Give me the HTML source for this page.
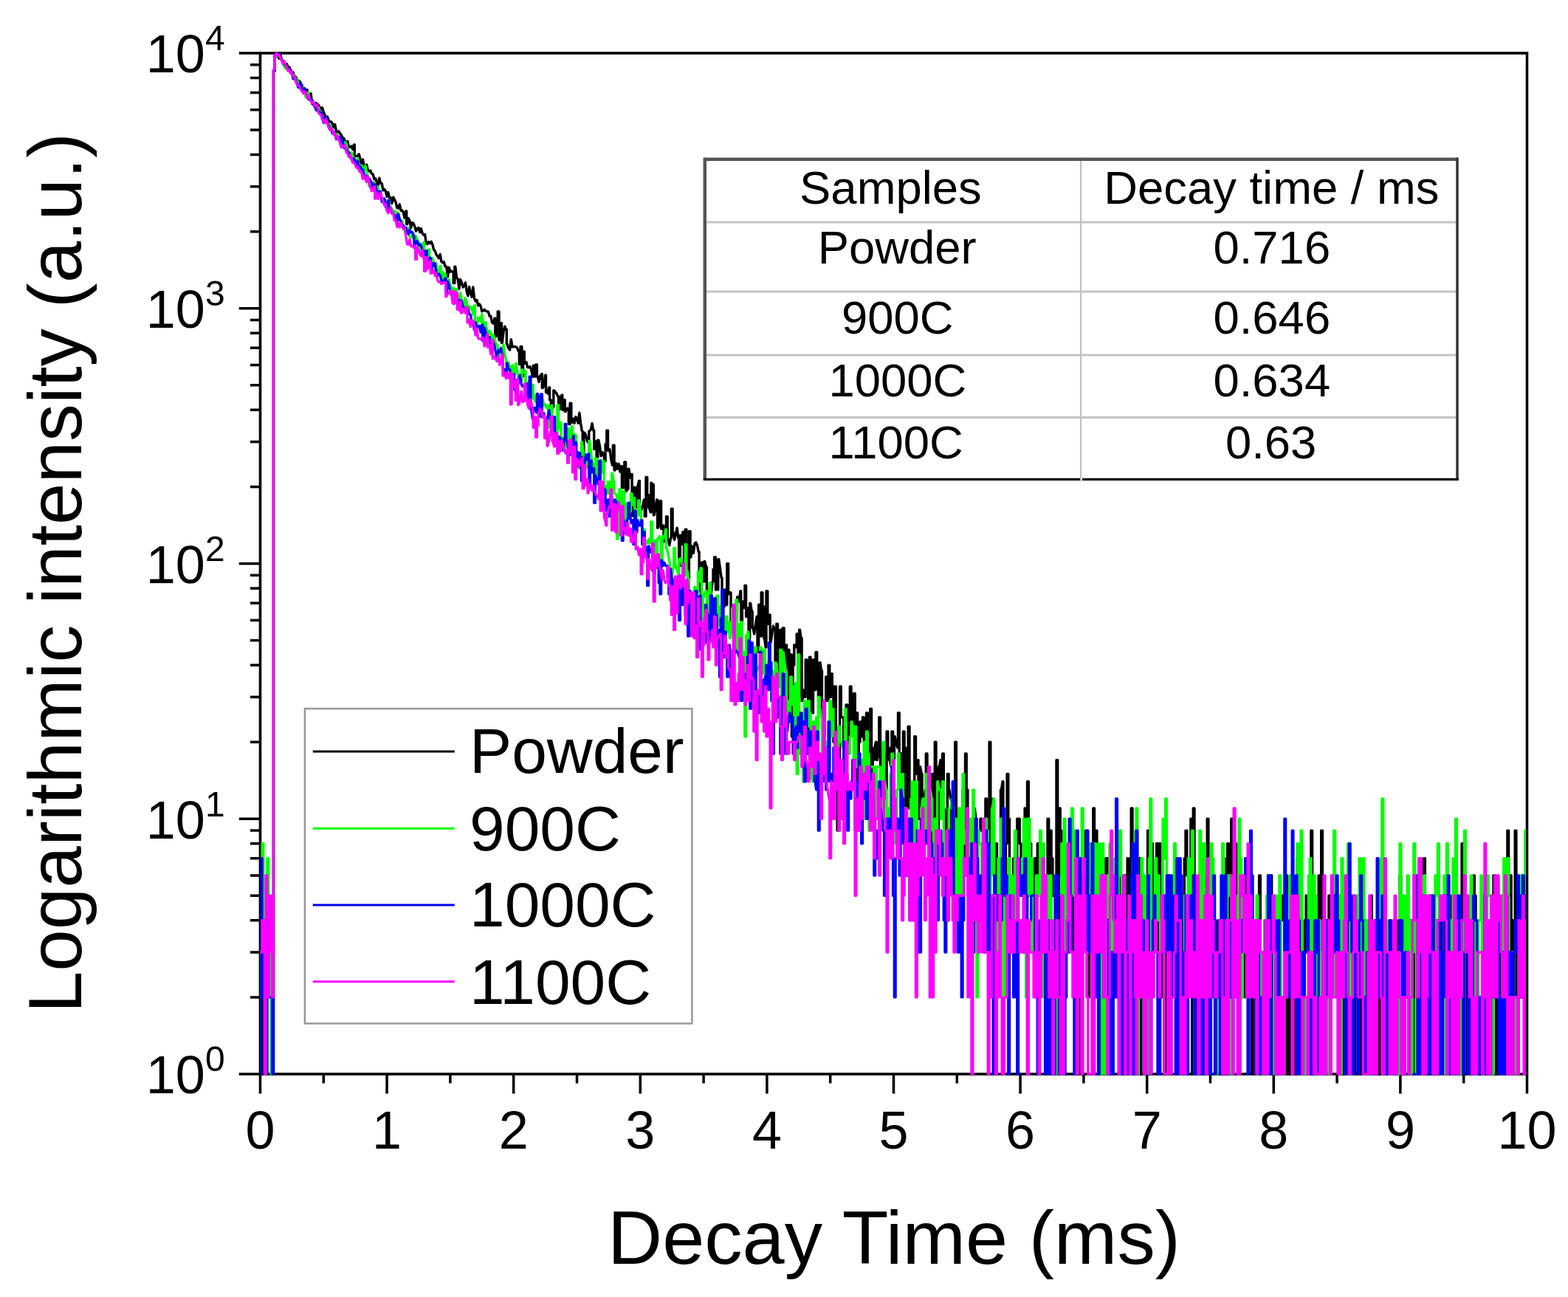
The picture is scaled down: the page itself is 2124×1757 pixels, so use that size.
<!DOCTYPE html>
<html><head><meta charset="utf-8"><title>Decay</title><style>
html,body{margin:0;padding:0;background:#fff;overflow:hidden;width:2124px;height:1757px;}
svg{display:block;}
text{font-family:"Liberation Sans", Arial, Helvetica, sans-serif;fill:#000;}
</style></head><body>
<svg width="2124" height="1757" viewBox="0 0 2124 1757">
<rect x="0" y="0" width="2124" height="1757" fill="#fff"/>
<defs><clipPath id="pa"><rect x="352.5" y="70.5" width="1714.5" height="1386.0"/></clipPath></defs>
<rect x="352.5" y="72.0" width="1716.0" height="1383.0" fill="none" stroke="#000" stroke-width="3.6"/>
<path d="M352.5,1455.0V1481.5M524.1,1455.0V1481.5M695.7,1455.0V1481.5M867.3,1455.0V1481.5M1038.9,1455.0V1481.5M1210.5,1455.0V1481.5M1382.1,1455.0V1481.5M1553.7,1455.0V1481.5M1725.3,1455.0V1481.5M1896.9,1455.0V1481.5M2068.5,1455.0V1481.5M438.3,1455.0V1467.5M609.9,1455.0V1467.5M781.5,1455.0V1467.5M953.1,1455.0V1467.5M1124.7,1455.0V1467.5M1296.3,1455.0V1467.5M1467.9,1455.0V1467.5M1639.5,1455.0V1467.5M1811.1,1455.0V1467.5M1982.7,1455.0V1467.5M352.5,1455.0H323.8M352.5,1350.9H339.0M352.5,1290.0H339.0M352.5,1246.8H339.0M352.5,1213.3H339.0M352.5,1186.0H339.0M352.5,1162.8H339.0M352.5,1142.8H339.0M352.5,1125.1H339.0M352.5,1109.2H323.8M352.5,1005.2H339.0M352.5,944.3H339.0M352.5,901.1H339.0M352.5,867.6H339.0M352.5,840.2H339.0M352.5,817.1H339.0M352.5,797.0H339.0M352.5,779.3H339.0M352.5,763.5H323.8M352.5,659.4H339.0M352.5,598.5H339.0M352.5,555.3H339.0M352.5,521.8H339.0M352.5,494.5H339.0M352.5,471.3H339.0M352.5,451.3H339.0M352.5,433.6H339.0M352.5,417.8H323.8M352.5,313.7H339.0M352.5,252.8H339.0M352.5,209.6H339.0M352.5,176.1H339.0M352.5,148.7H339.0M352.5,125.6H339.0M352.5,105.5H339.0M352.5,87.8H339.0M352.5,72.0H323.8" stroke="#000" stroke-width="3.5" fill="none"/>
<g clip-path="url(#pa)" fill="none" stroke-width="3.4" stroke-linejoin="round">
<path stroke="#000000" d="M352.5,1350.9H353.4V1246.8H354.2H355.1V1455.0H355.9H356.8V1290.0H357.6H358.5V1350.9H359.4H360.2V1186.0H361.1H361.9V1350.9H362.8H363.7V1290.0H364.5L366.2,1290.0H367.1V1246.8H367.9H368.8V1455.0H369.7H370.5V95.9H371.4H372.2V75.2H373.1L374.8,72.0L376.5,76.4L378.2,79.3L380.0,74.8L381.7,81.6L383.4,86.3L385.1,87.7L386.8,87.1L388.5,86.7L390.3,91.5L392.0,91.0L393.7,95.3L395.4,97.0L397.1,97.9L398.8,103.3L400.5,104.0L402.3,107.8L404.0,110.6L405.7,109.6L407.4,115.4L409.1,115.4L410.8,119.7L412.6,120.2L414.3,123.6L416.0,121.6L417.7,126.4L419.4,128.5L421.1,126.7L422.9,140.8L424.6,138.3L426.3,144.9L428.0,139.7L429.7,140.6L431.4,142.3L433.2,145.5L434.9,150.8L436.6,145.8L438.3,151.9L440.0,155.6L441.7,160.4L443.4,158.1L445.2,162.9L446.9,164.9L448.6,165.0L450.3,167.4L452.0,172.5L453.7,168.6L455.5,177.5L457.2,180.0L458.9,177.8L460.6,180.6L462.3,182.9L464.0,186.6L465.8,187.3L467.5,191.3L469.2,197.1L470.9,191.5L472.6,199.5L474.3,199.1L476.1,198.0L477.8,202.5L479.5,196.0H480.3V211.5H481.2L482.9,211.6L484.6,210.9L486.3,208.8L488.1,216.0L489.8,222.8L491.5,215.9L493.2,225.3L494.9,224.8L496.6,223.0L498.4,230.9L500.1,232.1L501.8,231.0L503.5,235.5L505.2,235.9L506.9,242.7L508.7,241.8L510.4,247.6L512.1,251.5L513.8,241.2L515.5,248.2L517.2,248.4L519.0,257.9L520.7,256.3L522.4,259.0L524.1,266.3L525.8,260.5L527.5,267.8L529.2,267.8L531.0,275.4L532.7,267.1L534.4,270.2L536.1,273.9L537.8,281.5L539.5,282.0L541.3,276.8L543.0,285.2L544.7,285.0L546.4,287.6L548.1,295.4L549.8,286.0H550.7V303.7H551.6L553.3,295.7L555.0,299.3L556.7,308.6L558.4,301.7L560.1,302.7L561.9,307.1L563.6,313.1L565.3,309.5L567.0,308.5L568.7,314.4L570.4,309.6L572.1,316.0L573.9,318.3L575.6,317.6L577.3,329.5L579.0,330.7L580.7,327.7L582.4,329.7L584.2,327.3L585.9,331.3L587.6,338.2L589.3,340.0L591.0,344.7L592.7,347.3L594.5,349.8L596.2,344.4L597.9,354.2L599.6,355.8L601.3,354.9L603.0,360.9L604.8,361.2L606.5,374.9L608.2,362.3L609.9,368.0L611.6,367.1L613.3,368.3H614.2V383.5H615.0H615.9V361.2H616.8L618.5,375.7L620.2,377.9L621.9,391.3L623.6,378.8L625.3,382.6L627.1,389.1L628.8,387.2L630.5,382.9L632.2,394.9L633.9,400.7L635.6,388.5L637.4,397.3L639.1,402.2L640.8,389.0L642.5,404.0L644.2,408.2L645.9,406.5L647.7,414.0L649.4,412.0L651.1,414.6L652.8,421.6L654.5,420.9L656.2,419.3L657.9,421.4L659.7,421.9L661.4,422.2L663.1,428.3L664.8,428.3L666.5,436.9L668.2,438.3L670.0,431.1H670.8V455.8H671.7H672.5V439.9H673.4H674.2V422.0H675.1H676.0V460.7H676.8H677.7V437.6H678.5H679.4V464.4H680.3L682.0,449.8L683.7,442.2L685.4,446.1H686.3V466.0H687.1L688.8,471.7L690.6,474.1L692.3,459.6L694.0,470.0L695.7,469.6L697.4,469.4L699.1,470.0L700.8,471.7L702.6,476.5H703.4V493.5H704.3H705.1V469.4H706.0H706.9V509.4H707.7H708.6V476.3H709.4H710.3V492.2H711.1L712.9,490.5L714.6,497.5L716.3,497.7L718.0,496.7L719.7,500.8L721.4,510.3H722.3V495.2H723.2L724.9,510.0H725.7V494.0H726.6H727.4V510.0H728.3L730.0,517.4L731.7,509.2L733.5,506.7H734.3V525.5H735.2L736.9,521.2L738.6,508.3H739.5V531.4H740.3L742.0,533.1L743.7,524.9H744.6V541.7H745.5H746.3V558.0H747.2L748.9,550.9H749.8V528.9H750.6L752.3,531.1L754.0,533.1L755.8,537.0H756.6V554.6H757.5H758.3V538.7H759.2L760.9,535.3H761.8V555.3H762.6L764.3,541.7H765.2V557.6H766.1L767.8,553.1L769.5,553.1H770.3V574.5H771.2H772.1V546.2H772.9H773.8V572.4H774.6L776.4,567.0L778.1,573.3L779.8,564.6L781.5,566.6L783.2,573.3L784.9,559.1L786.6,573.7L788.4,584.2H789.2V618.9H790.1H790.9V586.1H791.8L793.5,588.8L795.2,597.0L796.9,600.0H797.8V584.2H798.7L800.4,581.5L802.1,573.7L803.8,583.3H804.7V608.4H805.5L807.2,598.0H808.1V619.4H809.0H809.8V596.1H810.7L812.4,603.6L814.1,617.7L815.8,612.7L817.5,614.9L819.3,624.7H820.1V601.6H821.0H821.8V583.3H822.7H823.5V610.5H824.4L826.1,608.9L827.8,622.9L829.5,630.2H830.4V603.1H831.3H832.1V637.1H833.0L834.7,627.7L836.4,635.2L838.1,628.3L839.8,639.1L841.6,631.4H842.4V660.9H843.3H844.1V644.4H845.0H845.8V625.9H846.7H847.6V665.5H848.4L850.1,662.5H851.0V635.2H851.9L853.6,647.2L855.3,642.4H856.1V698.7H857.0H857.9V660.2H858.7H859.6V683.8H860.4L862.2,687.4H863.0V659.4H863.9L865.6,651.4H866.4V695.8H867.3L869.0,690.1L870.7,684.7L872.4,676.9H873.3V699.6H874.2H875.0V646.5H875.9H876.7V670.3H877.6H878.5V687.4H879.3L881.0,693.9H881.9V654.3H882.7L884.5,656.4H885.3V697.7H886.2L887.9,687.4L889.6,676.9H890.5V715.1H891.3L893.0,710.8H893.9V678.6H894.8H895.6V716.2H896.5L898.2,711.9H899.0V733.6H899.9L901.6,721.8H902.5V699.6H903.3H904.2V731.2H905.1L906.8,738.6L908.5,728.8H909.3V689.2H910.2H911.1V720.7H911.9L913.6,731.2L915.3,724.1L917.1,715.1L918.8,728.8H919.6V766.5H920.5H921.4V725.3H922.2L923.9,737.4H924.8V720.7H925.6H926.5V771.2H927.4H928.2V717.3H929.1H929.9V750.6H930.8H931.7V786.1H932.5H933.4V719.6H934.2H935.1V754.8H935.9L937.7,739.9L939.4,749.2L941.1,736.1L942.8,734.9L944.5,738.6L946.2,747.8H947.1V795.1H948.0L949.7,804.7H950.5V762.0H951.4H952.2V787.9H953.1H954.0V760.5H954.8L956.5,768.1H957.4V800.8H958.2L960.0,802.7L961.7,808.7L963.4,802.7L965.1,787.9H966.0V771.2H966.8H967.7V754.8H968.5H969.4V798.9H970.3L972.0,798.9H972.8V757.6H973.7L975.4,769.6L977.1,782.7H978.0V864.6H978.8H979.7V821.4H980.6H981.4V798.9H982.3H983.1V819.2H984.0H984.8V763.5H985.7H986.6V804.7H987.4L989.1,802.7H990.0V845.3H990.9L992.6,842.7L994.3,832.9L996.0,835.3L997.7,828.2H998.6V808.7H999.4L1001.1,814.9L1002.9,800.8H1003.7V861.7H1004.6H1005.4V814.9H1006.3L1008.0,823.6H1008.9V793.3H1009.7H1010.6V835.3H1011.4L1013.2,823.6H1014.0V864.6H1014.9H1015.7V817.1H1016.6L1018.3,828.2H1019.2V850.6H1020.0L1021.7,858.8L1023.5,845.3L1025.2,835.3H1026.0V883.4H1026.9H1027.7V819.2H1028.6H1029.5V861.7H1030.3H1031.2V802.7H1032.0H1032.9V821.4H1033.8H1034.6V864.6H1035.5L1037.2,876.9H1038.0V800.8H1038.9H1039.8V845.3H1040.6L1042.3,832.9H1043.2V870.6H1044.0L1045.8,858.8L1047.5,847.9L1049.2,853.3H1050.1V897.4H1050.9H1051.8V845.3H1052.6H1053.5V867.6H1054.3H1055.2V912.8H1056.1H1056.9V853.3H1057.8H1058.6V883.4H1059.5H1060.3V850.6H1061.2H1062.1V901.1H1062.9H1063.8V873.7H1064.6H1065.5V954.6H1066.4H1067.2V880.1H1068.1H1068.9V960.1H1069.8H1070.6V886.8H1071.5H1072.4V997.8H1073.2H1074.1V901.1H1074.9H1075.8V873.7H1076.7L1078.4,876.9H1079.2V858.8H1080.1H1080.9V944.3H1081.8H1082.7V853.3H1083.5L1085.2,864.6H1086.1V949.4H1086.9L1088.7,934.6L1090.4,944.3H1091.2V893.8H1092.1H1093.0V912.8H1093.8H1094.7V1021.0H1095.5H1096.4V890.2H1097.2H1098.1V939.4H1099.0H1099.8V965.8H1100.7H1101.5V893.8H1102.4H1103.2V934.6H1104.1H1105.0V883.4H1105.8H1106.7V912.8H1107.5H1108.4V944.3H1109.3H1110.1V897.4H1111.0L1112.7,908.8H1113.5V971.7H1114.4H1115.3V1021.0H1116.1H1117.0V949.4H1117.8H1118.7V916.9H1119.6H1120.4V949.4H1121.3H1122.1V901.1H1123.0H1123.8V944.3H1124.7H1125.6V912.8H1126.4H1127.3V930.0H1128.1H1129.0V1005.2H1129.8H1130.7V930.0H1131.6H1132.4V990.9H1133.3H1134.1V1125.1H1135.0H1135.9V1048.4H1136.7H1137.6V930.0H1138.4H1139.3V971.7H1140.1L1141.9,971.7H1142.7V1048.4H1143.6H1144.4V977.8H1145.3H1146.1V954.6H1147.0H1147.9V977.8H1148.7H1149.6V1012.9H1150.4H1151.3V930.0H1152.2H1153.0V990.9H1153.9L1155.6,977.8H1156.4V939.4H1157.3H1158.2V1125.1H1159.0H1159.9V965.8H1160.7H1161.6V1058.7H1162.5H1163.3V1005.2H1164.2H1165.0V977.8H1165.9H1166.7V997.8H1167.6H1168.5V971.7H1169.3H1170.2V1005.2H1171.0L1172.7,1012.9H1173.6V965.8H1174.5H1175.3V1029.6H1176.2L1177.9,1021.0H1178.8V960.1H1179.6H1180.5V1048.4H1181.3H1182.2V1029.6H1183.0H1183.9V1012.9H1184.8L1186.5,1005.2H1187.3V1029.6H1188.2L1189.9,1021.0H1190.8V971.7H1191.6H1192.5V1038.7H1193.3H1194.2V1012.9H1195.1L1196.8,1021.0H1197.6V1081.9H1198.5L1200.2,1069.9H1201.1V990.9H1201.9H1202.8V1012.9H1203.6H1204.5V1029.6H1205.4L1207.1,1038.7H1207.9V990.9H1208.8H1209.6V1029.6H1210.5H1211.4V997.8H1212.2L1213.9,1005.2L1215.6,1012.9H1216.5V965.8H1217.4H1218.2V1029.6H1219.1L1220.8,1021.0H1221.7V1058.7H1222.5H1223.4V990.9H1224.2H1225.1V1012.9H1225.9H1226.8V1125.1H1227.7H1228.5V1058.7H1229.4H1230.2V984.2H1231.1H1232.0V1094.9H1232.8L1234.5,1081.9H1235.4V1142.8H1236.2H1237.1V1109.2H1238.0H1238.8V997.8H1239.7H1240.5V1048.4H1241.4H1242.2V1029.6H1243.1H1244.0V1109.2H1244.8H1245.7V1038.7H1246.5L1248.3,1048.4H1249.1V1094.9H1250.0L1251.7,1081.9L1253.4,1069.9H1254.3V1021.0H1255.1H1256.0V1069.9H1256.8H1257.7V1186.0H1258.5H1259.4V1162.8H1260.3H1261.1V1109.2H1262.0H1262.8V1048.4H1263.7H1264.6V1142.8H1265.4H1266.3V1005.2H1267.1H1268.0V1094.9H1268.8H1269.7V1125.1H1270.6H1271.4V1038.7H1272.3L1274.0,1029.6H1274.8V1109.2H1275.7H1276.6V1021.0H1277.4H1278.3V1094.9H1279.1L1280.9,1109.2H1281.7V1125.1H1282.6H1283.4V1048.4H1284.3H1285.1V1069.9H1286.0L1287.7,1081.9H1288.6V1186.0H1289.4H1290.3V1094.9H1291.2L1292.9,1081.9H1293.7V1005.2H1294.6H1295.4V1142.8H1296.3L1298.0,1142.8H1298.9V1213.3H1299.7H1300.6V1125.1H1301.4H1302.3V1162.8H1303.2H1304.0V1069.9H1304.9H1305.7V1162.8H1306.6H1307.5V1021.0H1308.3H1309.2V1069.9H1310.0H1310.9V1142.8H1311.7H1312.6V1162.8H1313.5H1314.3V1142.8H1315.2H1316.0V1213.3H1316.9H1317.8V1109.2H1318.6L1320.3,1094.9L1322.0,1109.2H1322.9V1213.3H1323.8H1324.6V1142.8H1325.5H1326.3V1125.1H1327.2H1328.0V1109.2H1328.9H1329.8V1125.1H1330.6L1332.3,1125.1L1334.1,1125.1H1334.9V1081.9H1335.8H1336.6V1246.8H1337.5H1338.3V1142.8H1339.2H1340.1V1005.2H1340.9H1341.8V1081.9H1342.6H1343.5V1142.8H1344.3L1346.1,1142.8H1346.9V1186.0H1347.8H1348.6V1142.8H1349.5H1350.4V1213.3H1351.2L1352.9,1213.3H1353.8V1162.8H1354.6H1355.5V1069.9H1356.4L1358.1,1058.7H1358.9V1162.8H1359.8H1360.6V1213.3H1361.5H1362.4V1142.8H1363.2H1364.1V1048.4H1364.9H1365.8V1109.2H1366.7H1367.5V1290.0H1368.4H1369.2V1246.8H1370.1H1370.9V1186.0H1371.8H1372.7V1162.8H1373.5H1374.4V1186.0H1375.2L1377.0,1186.0H1377.8V1109.2H1378.7L1380.4,1109.2H1381.2V1142.8H1382.1H1383.0V1213.3H1383.8H1384.7V1162.8H1385.5H1386.4V1186.0H1387.2H1388.1V1094.9H1389.0H1389.8V1290.0H1390.7H1391.5V1058.7H1392.4H1393.3V1213.3H1394.1H1395.0V1142.8H1395.8H1396.7V1246.8H1397.5H1398.4V1213.3H1399.3L1401.0,1213.3H1401.8V1162.8H1402.7H1403.5V1213.3H1404.4H1405.3V1142.8H1406.1H1407.0V1213.3H1407.8H1408.7V1186.0H1409.6H1410.4V1142.8H1411.3L1413.0,1142.8H1413.8V1213.3H1414.7L1416.4,1213.3H1417.3V1186.0H1418.1H1419.0V1109.2H1419.9H1420.7V1246.8H1421.6H1422.4V1125.1H1423.3H1424.1V1162.8H1425.0H1425.9V1213.3H1426.7L1428.4,1213.3H1429.3V1290.0H1430.1H1431.0V1029.6H1431.9H1432.7V1290.0H1433.6H1434.4V1094.9H1435.3H1436.2V1125.1H1437.0H1437.9V1186.0H1438.7L1440.4,1186.0H1441.3V1290.0H1442.2H1443.0V1246.8H1443.9L1445.6,1246.8H1446.5V1213.3H1447.3H1448.2V1186.0H1449.0H1449.9V1162.8H1450.7H1451.6V1246.8H1452.5H1453.3V1186.0H1454.2H1455.0V1350.9H1455.9H1456.7V1213.3H1457.6H1458.5V1350.9H1459.3H1460.2V1455.0H1461.0H1461.9V1290.0H1462.8H1463.6V1186.0H1464.5H1465.3V1213.3H1466.2H1467.0V1246.8H1467.9H1468.8V1186.0H1469.6H1470.5V1125.1H1471.3H1472.2V1350.9H1473.0L1474.8,1350.9H1475.6V1290.0H1476.5H1477.3V1186.0H1478.2H1479.1V1162.8H1479.9H1480.8V1094.9H1481.6H1482.5V1186.0H1483.3H1484.2V1125.1H1485.1H1485.9V1213.3H1486.8L1488.5,1213.3H1489.3V1162.8H1490.2L1491.9,1162.8H1492.8V1213.3H1493.6H1494.5V1455.0H1495.4H1496.2V1246.8H1497.1H1497.9V1162.8H1498.8H1499.6V1290.0H1500.5H1501.4V1162.8H1502.2H1503.1V1186.0H1503.9H1504.8V1246.8H1505.7H1506.5V1350.9H1507.4H1508.2V1186.0H1509.1L1510.8,1186.0H1511.7V1109.2H1512.5H1513.4V1350.9H1514.2H1515.1V1186.0H1515.9H1516.8V1246.8H1517.7H1518.5V1350.9H1519.4L1521.1,1350.9H1522.0V1290.0H1522.8H1523.7V1186.0H1524.5H1525.4V1246.8H1526.2H1527.1V1162.8H1528.0H1528.8V1186.0H1529.7H1530.5V1213.3H1531.4H1532.2V1094.9H1533.1H1534.0V1290.0H1534.8H1535.7V1213.3H1536.5H1537.4V1186.0H1538.3H1539.1V1350.9H1540.0H1540.8V1162.8H1541.7L1543.4,1162.8H1544.3V1455.0H1545.1H1546.0V1290.0H1546.8L1548.6,1290.0H1549.4V1350.9H1550.3H1551.1V1213.3H1552.0H1552.8V1350.9H1553.7H1554.6V1125.1H1555.4H1556.3V1290.0H1557.1H1558.0V1213.3H1558.8H1559.7V1142.8H1560.6H1561.4V1246.8H1562.3H1563.1V1290.0H1564.0L1565.7,1290.0H1566.6V1142.8H1567.4H1568.3V1455.0H1569.1H1570.0V1142.8H1570.9H1571.7V1350.9H1572.6H1573.4V1246.8H1574.3H1575.1V1290.0H1576.0H1576.9V1455.0H1577.7L1579.4,1455.0H1580.3V1290.0H1581.2H1582.0V1186.0H1582.9H1583.7V1485.0H1584.6H1585.4V1213.3H1586.3H1587.2V1350.9H1588.0H1588.9V1213.3H1589.7H1590.6V1290.0H1591.5H1592.3V1186.0H1593.2H1594.0V1350.9H1594.9H1595.7V1290.0H1596.6H1597.5V1213.3H1598.3H1599.2V1350.9H1600.0H1600.9V1213.3H1601.7H1602.6V1350.9H1603.5H1604.3V1162.8H1605.2H1606.0V1125.1H1606.9H1607.8V1186.0H1608.6H1609.5V1246.8H1610.3H1611.2V1213.3H1612.0H1612.9V1109.2H1613.8H1614.6V1455.0H1615.5H1616.3V1094.9H1617.2H1618.0V1246.8H1618.9L1620.6,1246.8H1621.5V1350.9H1622.3H1623.2V1246.8H1624.1H1624.9V1290.0H1625.8H1626.6V1213.3H1627.5H1628.3V1162.8H1629.2H1630.1V1186.0H1630.9H1631.8V1246.8H1632.6H1633.5V1213.3H1634.4H1635.2V1109.2H1636.1H1636.9V1290.0H1637.8H1638.6V1246.8H1639.5H1640.4V1290.0H1641.2H1642.1V1213.3H1642.9H1643.8V1246.8H1644.6L1646.4,1246.8H1647.2V1290.0H1648.1H1648.9V1350.9H1649.8H1650.7V1290.0H1651.5H1652.4V1246.8H1653.2H1654.1V1290.0H1654.9H1655.8V1485.0H1656.7H1657.5V1455.0H1658.4H1659.2V1213.3H1660.1H1661.0V1162.8H1661.8H1662.7V1142.8H1663.5H1664.4V1350.9H1665.2H1666.1V1290.0H1667.0H1667.8V1109.2H1668.7H1669.5V1290.0H1670.4L1672.1,1290.0H1673.0V1142.8H1673.8H1674.7V1350.9H1675.5L1677.3,1350.9H1678.1V1455.0H1679.0H1679.8V1290.0H1680.7H1681.5V1350.9H1682.4H1683.3V1213.3H1684.1H1685.0V1186.0H1685.8H1686.7V1350.9H1687.5H1688.4V1290.0H1689.3H1690.1V1246.8H1691.0H1691.8V1213.3H1692.7H1693.6V1290.0H1694.4H1695.3V1455.0H1696.1L1697.8,1455.0H1698.7V1246.8H1699.6H1700.4V1350.9H1701.3H1702.1V1290.0H1703.0H1703.8V1455.0H1704.7H1705.6V1186.0H1706.4H1707.3V1290.0H1708.1H1709.0V1350.9H1709.9H1710.7V1455.0H1711.6H1712.4V1290.0H1713.3L1715.0,1290.0H1715.9V1246.8H1716.7H1717.6V1186.0H1718.4H1719.3V1213.3H1720.2H1721.0V1186.0H1721.9H1722.7V1246.8H1723.6H1724.4V1350.9H1725.3H1726.2V1246.8H1727.0H1727.9V1290.0H1728.7H1729.6V1350.9H1730.4H1731.3V1290.0H1732.2H1733.0V1455.0H1733.9H1734.7V1246.8H1735.6H1736.5V1213.3H1737.3L1739.0,1213.3H1739.9V1455.0H1740.7H1741.6V1186.0H1742.5H1743.3V1350.9H1744.2H1745.0V1485.0H1745.9H1746.8V1455.0H1747.6H1748.5V1186.0H1749.3H1750.2V1455.0H1751.0H1751.9V1290.0H1752.8H1753.6V1455.0H1754.5H1755.3V1290.0H1756.2H1757.0V1162.8H1757.9H1758.8V1290.0H1759.6L1761.3,1290.0H1762.2V1455.0H1763.1H1763.9V1350.9H1764.8H1765.6V1455.0H1766.5H1767.3V1246.8H1768.2H1769.1V1213.3H1769.9H1770.8V1246.8H1771.6H1772.5V1290.0H1773.3H1774.2V1350.9H1775.1H1775.9V1125.1H1776.8H1777.6V1290.0H1778.5H1779.4V1246.8H1780.2H1781.1V1485.0H1781.9H1782.8V1455.0H1783.6H1784.5V1350.9H1785.4H1786.2V1186.0H1787.1H1787.9V1455.0H1788.8H1789.7V1125.1H1790.5H1791.4V1350.9H1792.2H1793.1V1290.0H1793.9L1795.7,1290.0H1796.5V1350.9H1797.4L1799.1,1350.9H1799.9V1213.3H1800.8H1801.7V1290.0H1802.5L1804.2,1290.0H1805.1V1213.3H1806.0H1806.8V1246.8H1807.7L1809.4,1246.8H1810.2V1350.9H1811.1H1812.0V1246.8H1812.8H1813.7V1290.0H1814.5H1815.4V1455.0H1816.2H1817.1V1213.3H1818.0H1818.8V1455.0H1819.7H1820.5V1290.0H1821.4L1823.1,1290.0H1824.0V1455.0H1824.8H1825.7V1350.9H1826.5H1827.4V1290.0H1828.3H1829.1V1350.9H1830.0L1831.7,1350.9H1832.6V1455.0H1833.4H1834.3V1350.9H1835.1H1836.0V1455.0H1836.8L1838.6,1455.0L1840.3,1455.0H1841.1V1290.0H1842.0H1842.8V1455.0H1843.7H1844.6V1186.0H1845.4H1846.3V1290.0H1847.1L1848.9,1290.0L1850.6,1290.0H1851.4V1246.8H1852.3H1853.1V1290.0H1854.0H1854.9V1455.0H1855.7H1856.6V1213.3H1857.4H1858.3V1485.0H1859.1H1860.0V1350.9H1860.9L1862.6,1350.9H1863.4V1455.0H1864.3H1865.2V1290.0H1866.0H1866.9V1246.8H1867.7H1868.6V1455.0H1869.4H1870.3V1246.8H1871.2H1872.0V1290.0H1872.9L1874.6,1290.0L1876.3,1290.0H1877.2V1455.0H1878.0H1878.9V1350.9H1879.7H1880.6V1290.0H1881.5H1882.3V1246.8H1883.2H1884.0V1290.0H1884.9H1885.7V1350.9H1886.6H1887.5V1290.0H1888.3H1889.2V1246.8H1890.0H1890.9V1485.0H1891.8H1892.6V1350.9H1893.5H1894.3V1246.8H1895.2H1896.0V1186.0H1896.9H1897.8V1213.3H1898.6H1899.5V1246.8H1900.3H1901.2V1485.0H1902.0H1902.9V1246.8H1903.8L1905.5,1246.8H1906.3V1350.9H1907.2H1908.1V1455.0H1908.9H1909.8V1485.0H1910.6H1911.5V1246.8H1912.3H1913.2V1455.0H1914.1H1914.9V1350.9H1915.8H1916.6V1186.0H1917.5H1918.4V1290.0H1919.2H1920.1V1186.0H1920.9H1921.8V1246.8H1922.6L1924.4,1246.8H1925.2V1455.0H1926.1H1926.9V1290.0H1927.8H1928.6V1162.8H1929.5H1930.4V1485.0H1931.2H1932.1V1350.9H1932.9H1933.8V1485.0H1934.7H1935.5V1213.3H1936.4H1937.2V1485.0H1938.1H1938.9V1213.3H1939.8H1940.7V1455.0H1941.5H1942.4V1485.0H1943.2H1944.1V1246.8H1944.9L1946.7,1246.8H1947.5V1455.0H1948.4H1949.2V1485.0H1950.1H1951.0V1246.8H1951.8H1952.7V1350.9H1953.5H1954.4V1290.0H1955.2L1957.0,1290.0L1958.7,1290.0L1960.4,1290.0H1961.3V1350.9H1962.1H1963.0V1246.8H1963.8H1964.7V1290.0H1965.5H1966.4V1213.3H1967.3L1969.0,1213.3H1969.8V1186.0H1970.7L1972.4,1186.0H1973.3V1246.8H1974.1L1975.8,1246.8L1977.6,1246.8H1978.4V1350.9H1979.3H1980.1V1142.8H1981.0H1981.8V1485.0H1982.7H1983.6V1455.0H1984.4H1985.3V1485.0H1986.1H1987.0V1246.8H1987.8H1988.7V1455.0H1989.6H1990.4V1350.9H1991.3L1993.0,1350.9H1993.9V1485.0H1994.7H1995.6V1186.0H1996.4H1997.3V1213.3H1998.1H1999.0V1350.9H1999.9H2000.7V1290.0H2001.6H2002.4V1350.9H2003.3L2005.0,1350.9H2005.9V1485.0H2006.7H2007.6V1213.3H2008.4H2009.3V1455.0H2010.2H2011.0V1350.9H2011.9H2012.7V1213.3H2013.6H2014.4V1485.0H2015.3H2016.2V1290.0H2017.0H2017.9V1350.9H2018.7L2020.5,1350.9H2021.3V1290.0H2022.2H2023.0V1186.0H2023.9H2024.7V1246.8H2025.6H2026.5V1455.0H2027.3H2028.2V1290.0H2029.0L2030.7,1290.0H2031.6V1350.9H2032.5H2033.3V1455.0H2034.2H2035.0V1213.3H2035.9H2036.8V1246.8H2037.6H2038.5V1455.0H2039.3H2040.2V1350.9H2041.0H2041.9V1125.1H2042.8H2043.6V1213.3H2044.5H2045.3V1186.0H2046.2H2047.1V1290.0H2047.9H2048.8V1246.8H2049.6H2050.5V1290.0H2051.3H2052.2V1125.1H2053.1H2053.9V1350.9H2054.8H2055.6V1455.0H2056.5H2057.3V1246.8H2058.2H2059.1V1350.9H2059.9H2060.8V1246.8H2061.6H2062.5V1350.9H2063.4H2064.2V1246.8H2065.1H2065.9V1290.0H2066.8H2067.6V1455.0H2068.5"/>
<path stroke="#00ff00" d="M352.5,1350.9H353.4V1290.0H354.2H355.1V1142.8H355.9H356.8V1213.3H357.6H358.5V1455.0H359.4L361.1,1455.0H361.9V1162.8H362.8H363.7V1213.3H364.5H365.4V1246.8H366.2H367.1V1455.0H367.9H368.8V1290.0H369.7H370.5V96.3H371.4H372.2V78.8H373.1L374.8,72.0L376.5,74.8L378.2,75.5L380.0,78.7L381.7,81.9L383.4,85.0L385.1,89.2L386.8,93.0L388.5,90.3L390.3,95.8L392.0,96.6L393.7,96.4L395.4,98.3L397.1,100.6L398.8,104.5L400.5,106.2L402.3,108.7L404.0,111.3L405.7,117.1L407.4,116.0L409.1,116.8L410.8,121.4L412.6,123.4L414.3,132.0L416.0,130.8L417.7,124.9L419.4,135.6L421.1,134.0L422.9,134.6L424.6,137.5L426.3,141.8L428.0,144.9L429.7,150.4L431.4,145.0L433.2,151.5L434.9,150.9L436.6,160.7L438.3,164.1L440.0,166.6L441.7,161.3L443.4,166.6L445.2,168.9L446.9,169.6L448.6,172.4L450.3,174.7L452.0,179.5L453.7,182.7L455.5,181.7L457.2,181.5L458.9,188.4L460.6,188.6L462.3,192.4L464.0,192.3L465.8,199.6L467.5,192.4L469.2,195.2L470.9,202.3L472.6,205.6L474.3,213.0L476.1,206.7L477.8,211.6L479.5,213.7L481.2,221.9L482.9,216.6L484.6,215.3L486.3,227.3L488.1,226.7L489.8,224.1L491.5,228.2L493.2,230.3L494.9,224.6L496.6,232.1L498.4,238.8L500.1,252.3L501.8,244.9L503.5,251.5L505.2,253.6L506.9,246.7L508.7,257.5L510.4,256.5L512.1,252.9L513.8,262.9L515.5,264.7L517.2,269.6L519.0,269.2L520.7,276.1L522.4,271.1L524.1,277.1L525.8,274.7L527.5,276.3L529.2,281.4L531.0,282.8L532.7,287.1L534.4,285.9L536.1,286.4L537.8,290.6L539.5,288.9L541.3,296.0L543.0,298.8L544.7,299.2L546.4,310.8L548.1,307.9L549.8,317.5L551.6,309.4L553.3,308.5L555.0,320.8L556.7,320.4L558.4,322.2L560.1,316.1L561.9,322.1L563.6,320.2L565.3,325.3L567.0,327.6L568.7,342.6L570.4,345.7L572.1,330.8L573.9,328.5H574.7V348.1H575.6L577.3,349.8L579.0,340.5L580.7,337.9H581.6V356.9H582.4L584.2,355.9L585.9,349.9L587.6,356.0L589.3,357.6L591.0,357.3L592.7,370.2L594.5,371.7L596.2,360.4H597.0V380.9H597.9L599.6,368.6L601.3,378.8L603.0,370.6L604.8,380.7L606.5,383.2L608.2,378.4L609.9,386.7L611.6,389.6H612.5V406.3H613.3H614.2V390.5H615.0L616.8,396.9L618.5,391.9L620.2,403.0L621.9,409.4L623.6,396.6L625.3,406.5L627.1,410.7L628.8,419.9H629.6V404.1H630.5L632.2,409.1L633.9,424.0L635.6,414.9L637.4,418.4L639.1,416.1L640.8,426.1L642.5,414.0H643.4V444.5H644.2L645.9,444.3L647.7,430.1L649.4,430.3L651.1,435.9L652.8,425.3L654.5,439.7H655.4V457.4H656.2H657.1V436.4H657.9L659.7,447.9L661.4,453.5L663.1,447.9L664.8,450.9L666.5,460.9L668.2,453.7L670.0,458.8L671.7,466.0L673.4,467.7H674.2V486.2H675.1L676.8,478.3L678.5,479.2L680.3,479.0L682.0,466.9L683.7,480.6L685.4,485.5L687.1,496.5L688.8,491.2L690.6,497.5L692.3,501.1L694.0,495.0H694.8V512.0H695.7L697.4,505.6L699.1,492.2L700.8,503.7L702.6,513.9L704.3,512.0L706.0,515.9H706.9V500.6H707.7L709.4,504.5L711.1,502.4H712.0V523.9H712.9L714.6,523.0L716.3,516.8H717.2V538.7H718.0L719.7,534.7L721.4,521.8H722.3V539.7H723.2L724.9,543.8L726.6,533.7L728.3,542.7L730.0,548.0L731.7,541.4H732.6V565.0H733.5H734.3V541.0H735.2L736.9,549.1L738.6,547.7L740.3,552.7L742.0,549.1H742.9V578.9H743.7H744.6V560.3H745.5L747.2,549.1H748.0V574.5H748.9L750.6,577.5L752.3,578.9L754.0,589.8H754.9V548.7H755.8H756.6V580.6H757.5L759.2,572.4H760.0V593.1H760.9L762.6,593.1L764.3,595.6L766.1,606.8L767.8,598.0H768.6V580.6H769.5H770.3V604.1H771.2H772.1V586.1H772.9L774.6,577.5H775.5V596.5H776.4L778.1,587.9L779.8,589.8H780.6V614.4H781.5L783.2,614.4H784.1V634.6H784.9H785.8V616.6H786.6H787.5V599.0H788.4L790.1,611.6L791.8,619.4L793.5,622.9L795.2,633.9L796.9,630.2H797.8V597.5H798.7L800.4,611.1L802.1,625.3L803.8,631.4L805.5,641.7H806.4V621.2H807.2H808.1V642.4H809.0L810.7,641.1L812.4,644.4H813.2V623.5H814.1H815.0V640.4H815.8H816.7V624.7H817.5H818.4V659.4H819.3L821.0,658.7L822.7,668.7H823.5V652.8H824.4H825.3V668.7H826.1L827.8,666.3H828.7V641.1H829.5L831.3,652.8H832.1V668.7H833.0L834.7,670.3H835.6V730.0H836.4H837.3V707.7H838.1H839.0V662.5H839.8H840.7V694.8H841.6L843.3,691.1H844.1V665.5H845.0H845.8V707.7H846.7H847.6V682.1H848.4L850.1,692.9L851.9,687.4L853.6,692.9H854.4V668.7H855.3H856.1V683.8H857.0L858.7,674.4H859.6V713.0H860.4L862.2,699.6L863.9,697.7H864.7V677.8H865.6L867.3,692.0H868.2V711.9H869.0H869.9V736.1H870.7H871.6V717.3H872.4H873.3V738.6H874.2L875.9,732.4L877.6,736.1L879.3,730.0L881.0,736.1H881.9V706.7H882.7H883.6V733.6H884.5H885.3V753.3H886.2H887.0V732.4H887.9H888.8V769.6H889.6H890.5V730.0H891.3L893.0,726.4L894.8,730.0H895.6V763.5H896.5H897.3V726.4H898.2L899.9,728.8L901.6,717.3H902.5V742.5H903.3L905.1,750.6L906.8,760.5L908.5,772.8L910.2,781.0L911.9,769.6H912.8V742.5H913.6H914.5V765.0H915.3L917.1,771.2L918.8,777.7H919.6V757.6H920.5L922.2,756.2L923.9,765.0H924.8V800.8H925.6H926.5V779.3H927.4H928.2V737.4H929.1H929.9V772.8H930.8L932.5,784.4H933.4V800.8H934.2H935.1V825.9H935.9L937.7,837.7H938.5V804.7H939.4L941.1,795.1H941.9V814.9H942.8L944.5,802.7H945.4V774.4H946.2L948.0,787.9H948.8V769.6H949.7H950.5V850.6H951.4H952.2V808.7H953.1L954.8,802.7L956.5,800.8H957.4V850.6H958.2L960.0,856.0H960.8V789.7H961.7H962.5V830.5H963.4H964.3V812.8H965.1H966.0V840.2H966.8L968.5,850.6H969.4V808.7H970.3L972.0,806.7H972.8V830.5H973.7H974.5V847.9H975.4H976.3V821.4H977.1H978.0V842.7H978.8L980.6,847.9H981.4V864.6H982.3H983.1V835.3H984.0H984.8V856.0H985.7L987.4,842.7H988.3V864.6H989.1L990.9,850.6H991.7V823.6H992.6H993.4V864.6H994.3H995.1V883.4H996.0H996.9V812.8H997.7H998.6V845.3H999.4H1000.3V886.8H1001.1H1002.0V912.8H1002.9H1003.7V842.7H1004.6H1005.4V912.8H1006.3H1007.2V883.4H1008.0H1008.9V997.8H1009.7H1010.6V861.7H1011.4L1013.2,856.0H1014.0V897.4H1014.9L1016.6,886.8L1018.3,890.2H1019.2V921.1H1020.0L1021.7,916.9H1022.6V876.9H1023.5H1024.3V908.8H1025.2L1026.9,904.9L1028.6,901.1H1029.5V876.9H1030.3H1031.2V912.8H1032.0H1032.9V897.4H1033.8H1034.6V880.1H1035.5H1036.3V921.1H1037.2L1038.9,908.8L1040.6,901.1L1042.3,890.2H1043.2V912.8H1044.0L1045.8,908.8H1046.6V960.1H1047.5H1048.3V944.3H1049.2H1050.1V897.4H1050.9L1052.6,908.8L1054.3,916.9L1056.1,930.0H1056.9V880.1H1057.8H1058.6V971.7H1059.5H1060.3V883.4H1061.2L1062.9,897.4L1064.6,908.8H1065.5V984.2H1066.4H1067.2V949.4H1068.1H1068.9V977.8H1069.8H1070.6V916.9H1071.5H1072.4V954.6H1073.2H1074.1V930.0H1074.9H1075.8V990.9H1076.7H1077.5V925.5H1078.4H1079.2V1048.4H1080.1H1080.9V886.8H1081.8H1082.7V1021.0H1083.5L1085.2,1012.9H1086.1V971.7H1086.9H1087.8V1058.7H1088.7H1089.5V949.4H1090.4H1091.2V971.7H1092.1L1093.8,984.2H1094.7V949.4H1095.5H1096.4V965.8H1097.2H1098.1V1048.4H1099.0L1100.7,1058.7H1101.5V977.8H1102.4L1104.1,984.2L1105.8,971.7H1106.7V1021.0H1107.5H1108.4V944.3H1109.3H1110.1V960.1H1111.0L1112.7,971.7H1113.5V1038.7H1114.4H1115.3V997.8H1116.1H1117.0V1048.4H1117.8H1118.7V1005.2H1119.6L1121.3,1005.2H1122.1V1038.7H1123.0H1123.8V949.4H1124.7H1125.6V997.8H1126.4H1127.3V960.1H1128.1H1129.0V990.9H1129.8H1130.7V1012.9H1131.6L1133.3,1021.0L1135.0,1012.9H1135.9V984.2H1136.7H1137.6V1005.2H1138.4L1140.1,1005.2L1141.9,1012.9H1142.7V1094.9H1143.6H1144.4V960.1H1145.3H1146.1V1005.2H1147.0L1148.7,1012.9L1150.4,1021.0H1151.3V997.8H1152.2H1153.0V977.8H1153.9L1155.6,984.2H1156.4V1029.6H1157.3H1158.2V984.2H1159.0H1159.9V1038.7H1160.7L1162.5,1038.7H1163.3V1058.7H1164.2H1165.0V1029.6H1165.9L1167.6,1029.6H1168.5V1081.9H1169.3H1170.2V1005.2H1171.0H1171.9V1109.2H1172.7H1173.6V990.9H1174.5H1175.3V1021.0H1176.2H1177.0V1125.1H1177.9H1178.8V1038.7H1179.6L1181.3,1038.7L1183.0,1038.7H1183.9V1125.1H1184.8H1185.6V1081.9H1186.5H1187.3V1038.7H1188.2L1189.9,1038.7L1191.6,1038.7H1192.5V1058.7H1193.3H1194.2V1094.9H1195.1H1195.9V1005.2H1196.8H1197.6V1058.7H1198.5L1200.2,1069.9H1201.1V1109.2H1201.9L1203.6,1094.9H1204.5V1125.1H1205.4H1206.2V1048.4H1207.1H1207.9V1021.0H1208.8H1209.6V1069.9H1210.5L1212.2,1081.9H1213.1V1142.8H1213.9H1214.8V1069.9H1215.6H1216.5V1021.0H1217.4H1218.2V1058.7H1219.1H1219.9V1094.9H1220.8H1221.7V1048.4H1222.5H1223.4V1094.9H1224.2L1225.9,1094.9H1226.8V1186.0H1227.7H1228.5V1142.8H1229.4H1230.2V1125.1H1231.1H1232.0V1186.0H1232.8H1233.7V1081.9H1234.5H1235.4V1058.7H1236.2H1237.1V1162.8H1238.0H1238.8V1094.9H1239.7H1240.5V1058.7H1241.4H1242.2V1125.1H1243.1H1244.0V1186.0H1244.8H1245.7V1125.1H1246.5H1247.4V1094.9H1248.3L1250.0,1081.9L1251.7,1081.9H1252.5V1142.8H1253.4H1254.3V1048.4H1255.1H1256.0V1081.9H1256.8L1258.5,1081.9L1260.3,1069.9L1262.0,1081.9H1262.8V1125.1H1263.7H1264.6V1213.3H1265.4H1266.3V1109.2H1267.1H1268.0V1186.0H1268.8H1269.7V1058.7H1270.6L1272.3,1069.9L1274.0,1069.9H1274.8V1109.2H1275.7H1276.6V1058.7H1277.4H1278.3V1162.8H1279.1H1280.0V1246.8H1280.9H1281.7V1186.0H1282.6H1283.4V1142.8H1284.3H1285.1V1094.9H1286.0L1287.7,1094.9L1289.4,1081.9H1290.3V1162.8H1291.2H1292.0V1246.8H1292.9H1293.7V1109.2H1294.6H1295.4V1162.8H1296.3H1297.2V1246.8H1298.0H1298.9V1094.9H1299.7L1301.4,1094.9H1302.3V1213.3H1303.2H1304.0V1048.4H1304.9H1305.7V1142.8H1306.6H1307.5V1125.1H1308.3L1310.0,1125.1L1311.7,1125.1H1312.6V1290.0H1313.5H1314.3V1109.2H1315.2H1316.0V1142.8H1316.9H1317.8V1069.9H1318.6H1319.5V1213.3H1320.3H1321.2V1125.1H1322.0H1322.9V1350.9H1323.8H1324.6V1125.1H1325.5H1326.3V1142.8H1327.2L1328.9,1142.8H1329.8V1213.3H1330.6H1331.5V1142.8H1332.3H1333.2V1125.1H1334.1H1334.9V1109.2H1335.8H1336.6V1125.1H1337.5H1338.3V1290.0H1339.2H1340.1V1213.3H1340.9H1341.8V1186.0H1342.6H1343.5V1094.9H1344.3L1346.1,1081.9H1346.9V1246.8H1347.8H1348.6V1290.0H1349.5H1350.4V1246.8H1351.2H1352.1V1162.8H1352.9H1353.8V1246.8H1354.6H1355.5V1109.2H1356.4H1357.2V1162.8H1358.1H1358.9V1350.9H1359.8L1361.5,1350.9H1362.4V1213.3H1363.2H1364.1V1290.0H1364.9H1365.8V1162.8H1366.7H1367.5V1213.3H1368.4H1369.2V1186.0H1370.1H1370.9V1246.8H1371.8L1373.5,1246.8H1374.4V1125.1H1375.2H1376.1V1213.3H1377.0H1377.8V1290.0H1378.7H1379.5V1162.8H1380.4H1381.2V1186.0H1382.1H1383.0V1213.3H1383.8H1384.7V1162.8H1385.5H1386.4V1109.2H1387.2H1388.1V1162.8H1389.0H1389.8V1350.9H1390.7H1391.5V1109.2H1392.4L1394.1,1109.2H1395.0V1213.3H1395.8H1396.7V1162.8H1397.5H1398.4V1290.0H1399.3H1400.1V1213.3H1401.0H1401.8V1246.8H1402.7H1403.5V1186.0H1404.4H1405.3V1213.3H1406.1H1407.0V1186.0H1407.8H1408.7V1125.1H1409.6H1410.4V1350.9H1411.3H1412.1V1142.8H1413.0H1413.8V1213.3H1414.7L1416.4,1213.3H1417.3V1186.0H1418.1H1419.0V1350.9H1419.9H1420.7V1246.8H1421.6H1422.4V1186.0H1423.3H1424.1V1246.8H1425.0H1425.9V1290.0H1426.7H1427.6V1246.8H1428.4H1429.3V1455.0H1430.1H1431.0V1290.0H1431.9H1432.7V1455.0H1433.6H1434.4V1290.0H1435.3H1436.2V1246.8H1437.0H1437.9V1142.8H1438.7H1439.6V1350.9H1440.4H1441.3V1109.2H1442.2H1443.0V1142.8H1443.9H1444.7V1246.8H1445.6H1446.5V1186.0H1447.3H1448.2V1290.0H1449.0H1449.9V1142.8H1450.7H1451.6V1094.9H1452.5H1453.3V1213.3H1454.2H1455.0V1125.1H1455.9H1456.7V1213.3H1457.6H1458.5V1350.9H1459.3H1460.2V1290.0H1461.0H1461.9V1186.0H1462.8H1463.6V1290.0H1464.5H1465.3V1094.9H1466.2H1467.0V1186.0H1467.9L1469.6,1186.0H1470.5V1162.8H1471.3H1472.2V1290.0H1473.0H1473.9V1213.3H1474.8H1475.6V1142.8H1476.5H1477.3V1186.0H1478.2H1479.1V1290.0H1479.9H1480.8V1350.9H1481.6H1482.5V1142.8H1483.3H1484.2V1162.8H1485.1H1485.9V1213.3H1486.8H1487.6V1142.8H1488.5H1489.3V1290.0H1490.2H1491.1V1455.0H1491.9H1492.8V1142.8H1493.6H1494.5V1455.0H1495.4H1496.2V1186.0H1497.1H1497.9V1455.0H1498.8H1499.6V1186.0H1500.5H1501.4V1246.8H1502.2H1503.1V1142.8H1503.9H1504.8V1350.9H1505.7L1507.4,1350.9H1508.2V1246.8H1509.1H1509.9V1162.8H1510.8H1511.7V1125.1H1512.5H1513.4V1290.0H1514.2H1515.1V1186.0H1515.9H1516.8V1125.1H1517.7H1518.5V1186.0H1519.4H1520.2V1246.8H1521.1H1522.0V1213.3H1522.8H1523.7V1246.8H1524.5H1525.4V1350.9H1526.2L1528.0,1350.9H1528.8V1290.0H1529.7H1530.5V1246.8H1531.4H1532.2V1290.0H1533.1H1534.0V1162.8H1534.8H1535.7V1246.8H1536.5H1537.4V1125.1H1538.3H1539.1V1094.9H1540.0H1540.8V1455.0H1541.7H1542.5V1213.3H1543.4H1544.3V1350.9H1545.1H1546.0V1162.8H1546.8H1547.7V1350.9H1548.6H1549.4V1186.0H1550.3H1551.1V1290.0H1552.0H1552.8V1455.0H1553.7H1554.6V1186.0H1555.4H1556.3V1162.8H1557.1H1558.0V1081.9H1558.8H1559.7V1350.9H1560.6H1561.4V1290.0H1562.3L1564.0,1290.0H1564.9V1162.8H1565.7H1566.6V1246.8H1567.4H1568.3V1186.0H1569.1H1570.0V1246.8H1570.9H1571.7V1290.0H1572.6L1574.3,1290.0H1575.1V1109.2H1576.0H1576.9V1162.8H1577.7H1578.6V1081.9H1579.4H1580.3V1186.0H1581.2H1582.0V1455.0H1582.9H1583.7V1290.0H1584.6H1585.4V1186.0H1586.3H1587.2V1350.9H1588.0L1589.7,1350.9H1590.6V1142.8H1591.5H1592.3V1186.0H1593.2H1594.0V1350.9H1594.9H1595.7V1455.0H1596.6H1597.5V1290.0H1598.3H1599.2V1350.9H1600.0L1601.7,1350.9L1603.5,1350.9H1604.3V1213.3H1605.2H1606.0V1350.9H1606.9H1607.8V1213.3H1608.6H1609.5V1162.8H1610.3H1611.2V1290.0H1612.0H1612.9V1246.8H1613.8H1614.6V1125.1H1615.5H1616.3V1213.3H1617.2H1618.0V1455.0H1618.9L1620.6,1455.0H1621.5V1290.0H1622.3L1624.1,1290.0H1624.9V1125.1H1625.8H1626.6V1350.9H1627.5L1629.2,1350.9H1630.1V1142.8H1630.9H1631.8V1213.3H1632.6H1633.5V1455.0H1634.4H1635.2V1290.0H1636.1H1636.9V1162.8H1637.8H1638.6V1350.9H1639.5H1640.4V1142.8H1641.2H1642.1V1162.8H1642.9H1643.8V1213.3H1644.6H1645.5V1350.9H1646.4H1647.2V1485.0H1648.1H1648.9V1290.0H1649.8H1650.7V1246.8H1651.5H1652.4V1290.0H1653.2H1654.1V1186.0H1654.9H1655.8V1142.8H1656.7H1657.5V1290.0H1658.4H1659.2V1350.9H1660.1H1661.0V1246.8H1661.8H1662.7V1186.0H1663.5H1664.4V1213.3H1665.2H1666.1V1186.0H1667.0H1667.8V1455.0H1668.7H1669.5V1290.0H1670.4H1671.2V1246.8H1672.1L1673.8,1246.8H1674.7V1290.0H1675.5H1676.4V1213.3H1677.3H1678.1V1109.2H1679.0H1679.8V1162.8H1680.7H1681.5V1350.9H1682.4H1683.3V1186.0H1684.1H1685.0V1290.0H1685.8H1686.7V1213.3H1687.5L1689.3,1213.3H1690.1V1186.0H1691.0H1691.8V1350.9H1692.7H1693.6V1246.8H1694.4L1696.1,1246.8L1697.8,1246.8H1698.7V1350.9H1699.6H1700.4V1455.0H1701.3H1702.1V1213.3H1703.0H1703.8V1455.0H1704.7H1705.6V1290.0H1706.4H1707.3V1455.0H1708.1L1709.9,1455.0H1710.7V1290.0H1711.6H1712.4V1246.8H1713.3H1714.1V1485.0H1715.0H1715.9V1213.3H1716.7H1717.6V1186.0H1718.4H1719.3V1290.0H1720.2L1721.9,1290.0H1722.7V1213.3H1723.6H1724.4V1455.0H1725.3L1727.0,1455.0H1727.9V1213.3H1728.7H1729.6V1290.0H1730.4H1731.3V1350.9H1732.2H1733.0V1186.0H1733.9H1734.7V1350.9H1735.6H1736.5V1485.0H1737.3H1738.2V1455.0H1739.0H1739.9V1290.0H1740.7H1741.6V1350.9H1742.5H1743.3V1290.0H1744.2H1745.0V1246.8H1745.9H1746.8V1186.0H1747.6H1748.5V1246.8H1749.3H1750.2V1213.3H1751.0H1751.9V1350.9H1752.8H1753.6V1246.8H1754.5H1755.3V1290.0H1756.2H1757.0V1142.8H1757.9H1758.8V1246.8H1759.6H1760.5V1455.0H1761.3H1762.2V1125.1H1763.1H1763.9V1350.9H1764.8H1765.6V1485.0H1766.5H1767.3V1455.0H1768.2H1769.1V1350.9H1769.9L1771.6,1350.9H1772.5V1186.0H1773.3H1774.2V1162.8H1775.1H1775.9V1350.9H1776.8H1777.6V1246.8H1778.5H1779.4V1186.0H1780.2H1781.1V1213.3H1781.9H1782.8V1246.8H1783.6H1784.5V1455.0H1785.4H1786.2V1246.8H1787.1H1787.9V1350.9H1788.8H1789.7V1290.0H1790.5H1791.4V1350.9H1792.2H1793.1V1455.0H1793.9H1794.8V1350.9H1795.7L1797.4,1350.9H1798.2V1246.8H1799.1H1799.9V1485.0H1800.8H1801.7V1350.9H1802.5H1803.4V1246.8H1804.2H1805.1V1350.9H1806.0H1806.8V1125.1H1807.7H1808.5V1213.3H1809.4H1810.2V1246.8H1811.1H1812.0V1290.0H1812.8H1813.7V1213.3H1814.5H1815.4V1455.0H1816.2H1817.1V1162.8H1818.0H1818.8V1350.9H1819.7H1820.5V1246.8H1821.4H1822.3V1186.0H1823.1H1824.0V1455.0H1824.8H1825.7V1142.8H1826.5H1827.4V1290.0H1828.3H1829.1V1350.9H1830.0H1830.8V1485.0H1831.7H1832.6V1213.3H1833.4L1835.1,1213.3H1836.0V1290.0H1836.8H1837.7V1350.9H1838.6H1839.4V1213.3H1840.3H1841.1V1162.8H1842.0H1842.8V1290.0H1843.7H1844.6V1246.8H1845.4H1846.3V1162.8H1847.1H1848.0V1485.0H1848.9H1849.7V1246.8H1850.6L1852.3,1246.8H1853.1V1350.9H1854.0H1854.9V1455.0H1855.7H1856.6V1350.9H1857.4L1859.1,1350.9H1860.0V1485.0H1860.9H1861.7V1290.0H1862.6H1863.4V1246.8H1864.3L1866.0,1246.8H1866.9V1290.0H1867.7H1868.6V1246.8H1869.4H1870.3V1162.8H1871.2H1872.0V1081.9H1872.9H1873.7V1350.9H1874.6H1875.5V1290.0H1876.3H1877.2V1246.8H1878.0H1878.9V1290.0H1879.7H1880.6V1350.9H1881.5H1882.3V1485.0H1883.2H1884.0V1455.0H1884.9L1886.6,1455.0H1887.5V1290.0H1888.3H1889.2V1350.9H1890.0H1890.9V1290.0H1891.8H1892.6V1485.0H1893.5L1895.2,1485.0H1896.0V1142.8H1896.9H1897.8V1290.0H1898.6H1899.5V1213.3H1900.3L1902.0,1213.3H1902.9V1290.0H1903.8L1905.5,1290.0H1906.3V1186.0H1907.2H1908.1V1246.8H1908.9H1909.8V1455.0H1910.6L1912.3,1455.0H1913.2V1246.8H1914.1H1914.9V1142.8H1915.8H1916.6V1290.0H1917.5H1918.4V1455.0H1919.2H1920.1V1246.8H1920.9H1921.8V1213.3H1922.6H1923.5V1455.0H1924.4H1925.2V1246.8H1926.1H1926.9V1213.3H1927.8H1928.6V1186.0H1929.5H1930.4V1350.9H1931.2H1932.1V1213.3H1932.9H1933.8V1290.0H1934.7H1935.5V1350.9H1936.4H1937.2V1290.0H1938.1L1939.8,1290.0H1940.7V1350.9H1941.5H1942.4V1290.0H1943.2H1944.1V1186.0H1944.9H1945.8V1213.3H1946.7H1947.5V1142.8H1948.4H1949.2V1455.0H1950.1H1951.0V1485.0H1951.8H1952.7V1350.9H1953.5H1954.4V1455.0H1955.2H1956.1V1186.0H1957.0H1957.8V1455.0H1958.7H1959.5V1142.8H1960.4H1961.3V1246.8H1962.1H1963.0V1350.9H1963.8H1964.7V1246.8H1965.5H1966.4V1290.0H1967.3H1968.1V1162.8H1969.0H1969.8V1246.8H1970.7H1971.5V1109.2H1972.4H1973.3V1246.8H1974.1H1975.0V1290.0H1975.8H1976.7V1455.0H1977.6L1979.3,1455.0H1980.1V1290.0H1981.0H1981.8V1350.9H1982.7H1983.6V1125.1H1984.4H1985.3V1213.3H1986.1L1987.8,1213.3H1988.7V1455.0H1989.6H1990.4V1246.8H1991.3H1992.1V1186.0H1993.0H1993.9V1290.0H1994.7H1995.6V1213.3H1996.4H1997.3V1485.0H1998.1H1999.0V1350.9H1999.9L2001.6,1350.9H2002.4V1246.8H2003.3L2005.0,1246.8H2005.9V1186.0H2006.7H2007.6V1350.9H2008.4H2009.3V1455.0H2010.2H2011.0V1350.9H2011.9H2012.7V1246.8H2013.6H2014.4V1186.0H2015.3H2016.2V1213.3H2017.0L2018.7,1213.3H2019.6V1246.8H2020.5H2021.3V1455.0H2022.2H2023.0V1246.8H2023.9L2025.6,1246.8H2026.5V1213.3H2027.3H2028.2V1186.0H2029.0H2029.9V1290.0H2030.7H2031.6V1246.8H2032.5L2034.2,1246.8H2035.0V1455.0H2035.9H2036.8V1162.8H2037.6H2038.5V1290.0H2039.3L2041.0,1290.0H2041.9V1162.8H2042.8H2043.6V1455.0H2044.5H2045.3V1290.0H2046.2H2047.1V1350.9H2047.9H2048.8V1290.0H2049.6H2050.5V1350.9H2051.3L2053.1,1350.9H2053.9V1455.0H2054.8H2055.6V1350.9H2056.5H2057.3V1290.0H2058.2H2059.1V1186.0H2059.9L2061.6,1186.0H2062.5V1350.9H2063.4H2064.2V1246.8H2065.1H2065.9V1125.1H2066.8H2067.6V1290.0H2068.5"/>
<path stroke="#0000ff" d="M352.5,1455.0H353.4V1162.8H354.2H355.1V1350.9H355.9H356.8V1246.8H357.6L359.4,1246.8H360.2V1455.0H361.1H361.9V1246.8H362.8H363.7V1350.9H364.5L366.2,1350.9L367.9,1350.9H368.8V1455.0H369.7H370.5V96.1H371.4H372.2V73.3H373.1L374.8,72.0L376.5,73.1L378.2,73.7L380.0,76.6L381.7,81.0L383.4,82.3L385.1,86.7L386.8,89.4L388.5,91.0L390.3,93.0L392.0,93.5L393.7,96.6L395.4,98.3L397.1,106.8L398.8,106.2L400.5,107.9L402.3,113.1L404.0,118.4L405.7,113.8L407.4,112.0L409.1,122.3L410.8,121.6L412.6,119.7L414.3,127.1L416.0,129.6L417.7,134.5L419.4,134.2L421.1,133.8L422.9,135.8L424.6,141.6L426.3,140.6L428.0,149.0L429.7,149.5L431.4,149.7L433.2,151.9L434.9,152.2L436.6,158.2L438.3,166.1L440.0,158.8L441.7,158.7L443.4,165.4L445.2,170.0L446.9,173.1L448.6,173.8L450.3,180.8L452.0,178.5L453.7,182.5L455.5,188.6L457.2,185.6L458.9,187.0L460.6,185.2L462.3,193.0L464.0,190.1L465.8,199.7L467.5,201.4L469.2,201.3L470.9,207.4L472.6,206.8L474.3,212.4L476.1,215.0L477.8,216.1L479.5,214.3L481.2,219.2L482.9,223.3L484.6,218.2L486.3,226.5L488.1,225.7L489.8,229.5L491.5,229.9L493.2,235.5L494.9,239.8L496.6,238.5L498.4,240.5L500.1,241.9L501.8,244.7L503.5,247.2L505.2,255.2L506.9,249.6L508.7,251.9L510.4,258.7L512.1,259.3L513.8,262.0L515.5,259.2L517.2,273.2L519.0,270.5L520.7,269.1L522.4,280.6L524.1,278.8L525.8,271.4H526.7V286.4H527.5L529.2,283.4L531.0,289.1L532.7,288.2L534.4,293.5L536.1,291.8L537.8,301.3L539.5,289.9L541.3,297.3L543.0,300.0L544.7,306.1L546.4,305.2L548.1,309.4L549.8,308.2L551.6,314.8L553.3,317.1L555.0,311.3L556.7,314.6L558.4,314.5L560.1,320.0H561.0V335.5H561.9L563.6,326.9L565.3,327.0L567.0,332.3L568.7,330.5L570.4,333.2L572.1,338.7L573.9,339.8L575.6,345.1L577.3,339.7H578.2V356.4H579.0L580.7,359.5L582.4,349.2H583.3V365.6H584.2L585.9,356.6L587.6,360.7L589.3,356.5L591.0,370.8L592.7,373.6L594.5,371.1L596.2,373.2L597.9,379.4L599.6,382.9L601.3,379.9L603.0,377.3H603.9V397.0H604.8H605.6V381.4H606.5L608.2,386.2L609.9,394.3L611.6,400.1L613.3,400.1L615.0,411.4L616.8,400.7L618.5,403.3L620.2,406.2L621.9,406.3L623.6,418.7L625.3,407.2L627.1,416.1L628.8,417.0L630.5,418.1L632.2,420.2L633.9,419.1L635.6,424.8L637.4,426.9L639.1,437.1L640.8,436.6L642.5,447.2L644.2,436.6L645.9,442.9L647.7,443.0L649.4,441.4L651.1,450.1L652.8,439.9H653.7V461.5H654.5H655.4V444.3H656.2L657.9,449.0L659.7,461.8L661.4,458.6L663.1,456.6L664.8,470.5L666.5,466.5L668.2,463.6L670.0,469.0L671.7,478.3L673.4,489.0L675.1,474.8L676.8,476.5L678.5,471.5L680.3,479.9H681.1V499.8H682.0L683.7,500.6L685.4,507.2H686.3V492.0H687.1L688.8,500.8L690.6,500.8L692.3,509.2L694.0,521.5L695.7,507.0H696.6V527.6H697.4L699.1,532.7L700.8,526.1L702.6,515.4L704.3,508.1L706.0,519.7L707.7,523.6L709.4,522.7L711.1,520.6L712.9,520.0H713.7V541.7H714.6L716.3,542.7H717.2V510.3H718.0H718.9V555.0H719.7L721.4,567.0L723.2,552.4L724.9,552.4L726.6,559.1H727.4V533.4H728.3L730.0,541.4H730.9V563.8H731.7H732.6V534.0H733.5H734.3V565.0H735.2L736.9,559.9L738.6,573.7L740.3,577.1L742.0,563.8L743.7,555.7L745.5,566.2L747.2,574.5L748.9,580.6H749.8V564.6H750.6H751.5V600.0H752.3L754.0,587.0L755.8,598.0L757.5,591.7L759.2,594.1L760.9,602.6L762.6,610.0H763.5V594.6H764.3H765.2V574.5H766.1H766.9V597.0H767.8L769.5,606.2L771.2,616.6H772.1V598.5H772.9L774.6,605.7L776.4,590.7H777.2V618.9H778.1H778.9V599.5H779.8H780.6V631.4H781.5H782.4V612.7H783.2L784.9,613.8H785.8V633.3H786.6H787.5V651.4H788.4H789.2V622.9H790.1L791.8,627.7L793.5,616.0L795.2,622.9L796.9,614.9H797.8V654.3H798.7H799.5V624.1H800.4H801.2V639.7H802.1L803.8,634.6H804.7V681.2H805.5H806.4V644.4H807.2L809.0,652.8L810.7,656.4H811.5V624.1H812.4H813.2V671.9H814.1L815.8,670.3L817.5,661.7L819.3,663.2H820.1V691.1H821.0L822.7,692.9H823.5V676.9H824.4H825.3V699.6H826.1H827.0V671.9H827.8H828.7V690.1H829.5H830.4V707.7H831.3H832.1V676.9H833.0L834.7,679.5L836.4,682.9L838.1,688.3L839.8,686.5H840.7V704.6H841.6H842.4V732.4H843.3H844.1V704.6H845.0L846.7,709.8L848.4,716.2L850.1,702.6H851.0V681.2H851.9H852.7V699.6H853.6L855.3,708.7L857.0,704.6H857.9V737.4H858.7H859.6V692.0H860.4H861.3V720.7H862.2H863.0V704.6H863.9L865.6,711.9L867.3,711.9L869.0,704.6H869.9V737.4H870.7H871.6V720.7H872.4H873.3V745.1H874.2L875.9,741.2H876.7V793.3H877.6H878.5V739.9H879.3L881.0,747.8L882.7,746.5H883.6V772.8H884.5L886.2,777.7H887.0V753.3H887.9L889.6,760.5L891.3,754.8H892.2V789.7H893.0H893.9V804.7H894.8H895.6V759.1H896.5L898.2,766.5L899.9,762.0L901.6,766.5L903.3,766.5H904.2V782.7H905.1H905.9V804.7H906.8H907.6V771.2H908.5L910.2,784.4H911.1V800.8H911.9H912.8V819.2H913.6H914.5V798.9H915.3L917.1,786.1L918.8,781.0H919.6V840.2H920.5H921.4V781.0H922.2H923.1V819.2H923.9H924.8V776.0H925.6H926.5V812.8H927.4H928.2V832.9H929.1H929.9V793.3H930.8H931.7V861.7H932.5H933.4V800.8H934.2H935.1V817.1H935.9L937.7,812.8L939.4,810.8L941.1,817.1H941.9V800.8H942.8H943.7V880.1H944.5H945.4V812.8H946.2L948.0,806.7H948.8V880.1H949.7L951.4,880.1H952.2V858.8H953.1L954.8,870.6H955.7V819.2H956.5L958.2,832.9H959.1V873.7H960.0L961.7,864.6H962.5V806.7H963.4H964.3V864.6H965.1L966.8,873.7H967.7V810.8H968.5H969.4V832.9H970.3H971.1V876.9H972.0H972.8V853.3H973.7H974.5V916.9H975.4H976.3V837.7H977.1H978.0V798.9H978.8H979.7V890.2H980.6H981.4V856.0H982.3H983.1V876.9H984.0H984.8V916.9H985.7H986.6V873.7H987.4H988.3V890.2H989.1H990.0V921.1H990.9H991.7V893.8H992.6L994.3,886.8L996.0,880.1L997.7,883.4L999.4,883.4L1001.1,890.2H1002.0V912.8H1002.9H1003.7V949.4H1004.6H1005.4V908.8H1006.3L1008.0,921.1H1008.9V939.4H1009.7H1010.6V912.8H1011.4H1012.3V890.2H1013.2H1014.0V867.6H1014.9H1015.7V960.1H1016.6H1017.5V870.6H1018.3H1019.2V944.3H1020.0H1020.9V912.8H1021.7H1022.6V886.8H1023.5H1024.3V934.6H1025.2L1026.9,949.4H1027.7V965.8H1028.6H1029.5V883.4H1030.3H1031.2V960.1H1032.0H1032.9V921.1H1033.8L1035.5,934.6H1036.3V916.9H1037.2H1038.0V901.1H1038.9H1039.8V934.6H1040.6H1041.5V870.6H1042.3H1043.2V897.4H1044.0H1044.9V949.4H1045.8H1046.6V1021.0H1047.5H1048.3V960.1H1049.2L1050.9,971.7H1051.8V916.9H1052.6H1053.5V971.7H1054.3H1055.2V944.3H1056.1H1056.9V1021.0H1057.8H1058.6V954.6H1059.5H1060.3V912.8H1061.2H1062.1V949.4H1062.9H1063.8V1021.0H1064.6H1065.5V990.9H1066.4L1068.1,977.8L1069.8,965.8L1071.5,977.8L1073.2,971.7H1074.1V1021.0H1074.9H1075.8V990.9H1076.7L1078.4,984.2H1079.2V1012.9H1080.1H1080.9V971.7H1081.8H1082.7V990.9H1083.5H1084.4V965.8H1085.2H1086.1V1038.7H1086.9H1087.8V977.8H1088.7H1089.5V1058.7H1090.4H1091.2V960.1H1092.1H1093.0V1021.0H1093.8H1094.7V990.9H1095.5H1096.4V1012.9H1097.2H1098.1V990.9H1099.0L1100.7,1005.2L1102.4,990.9H1103.2V1058.7H1104.1L1105.8,1069.9H1106.7V990.9H1107.5H1108.4V1125.1H1109.3H1110.1V1069.9H1111.0H1111.8V1038.7H1112.7H1113.5V1058.7H1114.4H1115.3V1021.0H1116.1L1117.8,1012.9H1118.7V1069.9H1119.6H1120.4V1048.4H1121.3H1122.1V977.8H1123.0H1123.8V1058.7H1124.7L1126.4,1048.4L1128.1,1058.7H1129.0V1012.9H1129.8H1130.7V1029.6H1131.6L1133.3,1029.6L1135.0,1021.0H1135.9V1069.9H1136.7H1137.6V1109.2H1138.4H1139.3V1029.6H1140.1H1141.0V1109.2H1141.9H1142.7V1005.2H1143.6H1144.4V1109.2H1145.3H1146.1V1048.4H1147.0H1147.9V1125.1H1148.7H1149.6V1069.9H1150.4L1152.2,1081.9H1153.0V1058.7H1153.9H1154.7V1029.6H1155.6L1157.3,1029.6H1158.2V1069.9H1159.0H1159.9V1125.1H1160.7H1161.6V1058.7H1162.5H1163.3V1021.0H1164.2H1165.0V1038.7H1165.9H1166.7V1142.8H1167.6H1168.5V1058.7H1169.3L1171.0,1048.4H1171.9V1081.9H1172.7H1173.6V1109.2H1174.5H1175.3V1048.4H1176.2L1177.9,1038.7L1179.6,1048.4H1180.5V1109.2H1181.3H1182.2V1081.9H1183.0H1183.9V1186.0H1184.8H1185.6V1125.1H1186.5H1187.3V1162.8H1188.2H1189.0V1125.1H1189.9H1190.8V1058.7H1191.6H1192.5V1094.9H1193.3L1195.1,1109.2H1195.9V1125.1H1196.8H1197.6V1213.3H1198.5H1199.3V1162.8H1200.2H1201.1V1109.2H1201.9H1202.8V1125.1H1203.6H1204.5V1109.2H1205.4H1206.2V1162.8H1207.1H1207.9V1038.7H1208.8H1209.6V1213.3H1210.5H1211.4V1350.9H1212.2H1213.1V1162.8H1213.9H1214.8V1109.2H1215.6H1216.5V1125.1H1217.4H1218.2V1186.0H1219.1H1219.9V1069.9H1220.8L1222.5,1081.9H1223.4V1142.8H1224.2H1225.1V1186.0H1225.9H1226.8V1125.1H1227.7H1228.5V1186.0H1229.4H1230.2V1109.2H1231.1H1232.0V1246.8H1232.8H1233.7V1109.2H1234.5H1235.4V1162.8H1236.2H1237.1V1246.8H1238.0H1238.8V1213.3H1239.7H1240.5V1142.8H1241.4H1242.2V1125.1H1243.1H1244.0V1290.0H1244.8L1246.5,1290.0H1247.4V1109.2H1248.3H1249.1V1162.8H1250.0H1250.8V1142.8H1251.7L1253.4,1142.8H1254.3V1125.1H1255.1H1256.0V1142.8H1256.8H1257.7V1094.9H1258.5H1259.4V1162.8H1260.3H1261.1V1142.8H1262.0H1262.8V1213.3H1263.7H1264.6V1162.8H1265.4H1266.3V1246.8H1267.1H1268.0V1142.8H1268.8H1269.7V1246.8H1270.6H1271.4V1162.8H1272.3H1273.1V1125.1H1274.0H1274.8V1142.8H1275.7H1276.6V1186.0H1277.4H1278.3V1246.8H1279.1H1280.0V1290.0H1280.9H1281.7V1142.8H1282.6H1283.4V1246.8H1284.3H1285.1V1125.1H1286.0H1286.9V1162.8H1287.7L1289.4,1162.8H1290.3V1058.7H1291.2H1292.0V1246.8H1292.9H1293.7V1213.3H1294.6L1296.3,1213.3H1297.2V1290.0H1298.0L1299.7,1290.0H1300.6V1213.3H1301.4H1302.3V1350.9H1303.2H1304.0V1246.8H1304.9H1305.7V1162.8H1306.6H1307.5V1186.0H1308.3L1310.0,1186.0H1310.9V1213.3H1311.7H1312.6V1162.8H1313.5H1314.3V1290.0H1315.2H1316.0V1142.8H1316.9H1317.8V1290.0H1318.6H1319.5V1213.3H1320.3H1321.2V1109.2H1322.0H1322.9V1162.8H1323.8H1324.6V1290.0H1325.5H1326.3V1213.3H1327.2H1328.0V1186.0H1328.9H1329.8V1213.3H1330.6H1331.5V1125.1H1332.3H1333.2V1290.0H1334.1H1334.9V1125.1H1335.8H1336.6V1290.0H1337.5H1338.3V1142.8H1339.2H1340.1V1350.9H1340.9H1341.8V1290.0H1342.6H1343.5V1213.3H1344.3H1345.2V1455.0H1346.1H1346.9V1186.0H1347.8H1348.6V1246.8H1349.5H1350.4V1213.3H1351.2L1352.9,1213.3H1353.8V1246.8H1354.6L1356.4,1246.8H1357.2V1162.8H1358.1H1358.9V1094.9H1359.8H1360.6V1213.3H1361.5H1362.4V1186.0H1363.2H1364.1V1246.8H1364.9H1365.8V1455.0H1366.7H1367.5V1213.3H1368.4H1369.2V1246.8H1370.1H1370.9V1213.3H1371.8H1372.7V1350.9H1373.5H1374.4V1290.0H1375.2H1376.1V1246.8H1377.0H1377.8V1485.0H1378.7H1379.5V1162.8H1380.4H1381.2V1186.0H1382.1H1383.0V1213.3H1383.8H1384.7V1186.0H1385.5H1386.4V1290.0H1387.2H1388.1V1162.8H1389.0H1389.8V1213.3H1390.7H1391.5V1455.0H1392.4H1393.3V1246.8H1394.1L1395.8,1246.8H1396.7V1213.3H1397.5L1399.3,1213.3L1401.0,1213.3H1401.8V1350.9H1402.7H1403.5V1290.0H1404.4H1405.3V1455.0H1406.1H1407.0V1290.0H1407.8H1408.7V1246.8H1409.6H1410.4V1290.0H1411.3H1412.1V1213.3H1413.0H1413.8V1290.0H1414.7H1415.6V1455.0H1416.4H1417.3V1246.8H1418.1L1419.9,1246.8H1420.7V1455.0H1421.6H1422.4V1350.9H1423.3H1424.1V1290.0H1425.0H1425.9V1455.0H1426.7L1428.4,1455.0H1429.3V1186.0H1430.1L1431.9,1186.0H1432.7V1290.0H1433.6H1434.4V1485.0H1435.3H1436.2V1246.8H1437.0H1437.9V1213.3H1438.7H1439.6V1290.0H1440.4H1441.3V1455.0H1442.2H1443.0V1350.9H1443.9H1444.7V1246.8H1445.6H1446.5V1290.0H1447.3H1448.2V1109.2H1449.0H1449.9V1213.3H1450.7H1451.6V1290.0H1452.5H1453.3V1350.9H1454.2H1455.0V1455.0H1455.9H1456.7V1290.0H1457.6H1458.5V1125.1H1459.3H1460.2V1213.3H1461.0H1461.9V1162.8H1462.8H1463.6V1213.3H1464.5L1466.2,1213.3H1467.0V1186.0H1467.9H1468.8V1213.3H1469.6H1470.5V1290.0H1471.3H1472.2V1125.1H1473.0H1473.9V1213.3H1474.8H1475.6V1290.0H1476.5H1477.3V1213.3H1478.2H1479.1V1142.8H1479.9H1480.8V1455.0H1481.6H1482.5V1350.9H1483.3H1484.2V1246.8H1485.1H1485.9V1350.9H1486.8H1487.6V1455.0H1488.5H1489.3V1213.3H1490.2H1491.1V1290.0H1491.9H1492.8V1186.0H1493.6H1494.5V1350.9H1495.4H1496.2V1246.8H1497.1L1498.8,1246.8L1500.5,1246.8H1501.4V1455.0H1502.2H1503.1V1485.0H1503.9H1504.8V1290.0H1505.7H1506.5V1455.0H1507.4H1508.2V1290.0H1509.1H1509.9V1350.9H1510.8H1511.7V1081.9H1512.5H1513.4V1350.9H1514.2H1515.1V1290.0H1515.9H1516.8V1455.0H1517.7H1518.5V1213.3H1519.4H1520.2V1455.0H1521.1H1522.0V1186.0H1522.8H1523.7V1246.8H1524.5H1525.4V1350.9H1526.2H1527.1V1246.8H1528.0H1528.8V1485.0H1529.7H1530.5V1455.0H1531.4H1532.2V1186.0H1533.1H1534.0V1142.8H1534.8H1535.7V1485.0H1536.5H1537.4V1350.9H1538.3H1539.1V1125.1H1540.0H1540.8V1213.3H1541.7H1542.5V1246.8H1543.4H1544.3V1213.3H1545.1H1546.0V1350.9H1546.8H1547.7V1246.8H1548.6H1549.4V1350.9H1550.3H1551.1V1485.0H1552.0H1552.8V1290.0H1553.7H1554.6V1186.0H1555.4H1556.3V1290.0H1557.1H1558.0V1455.0H1558.8H1559.7V1350.9H1560.6H1561.4V1246.8H1562.3H1563.1V1213.3H1564.0H1564.9V1290.0H1565.7L1567.4,1290.0H1568.3V1485.0H1569.1L1570.9,1485.0H1571.7V1290.0H1572.6L1574.3,1290.0H1575.1V1246.8H1576.0H1576.9V1213.3H1577.7H1578.6V1290.0H1579.4H1580.3V1186.0H1581.2H1582.0V1290.0H1582.9L1584.6,1290.0H1585.4V1186.0H1586.3H1587.2V1350.9H1588.0H1588.9V1290.0H1589.7H1590.6V1213.3H1591.5H1592.3V1455.0H1593.2H1594.0V1162.8H1594.9H1595.7V1455.0H1596.6H1597.5V1162.8H1598.3H1599.2V1186.0H1600.0H1600.9V1350.9H1601.7H1602.6V1290.0H1603.5H1604.3V1485.0H1605.2H1606.0V1213.3H1606.9H1607.8V1485.0H1608.6H1609.5V1290.0H1610.3L1612.0,1290.0H1612.9V1213.3H1613.8H1614.6V1350.9H1615.5H1616.3V1186.0H1617.2H1618.0V1455.0H1618.9H1619.8V1485.0H1620.6H1621.5V1350.9H1622.3H1623.2V1290.0H1624.1L1625.8,1290.0H1626.6V1485.0H1627.5H1628.3V1455.0H1629.2H1630.1V1350.9H1630.9H1631.8V1246.8H1632.6H1633.5V1455.0H1634.4H1635.2V1350.9H1636.1H1636.9V1290.0H1637.8H1638.6V1485.0H1639.5H1640.4V1246.8H1641.2H1642.1V1350.9H1642.9H1643.8V1186.0H1644.6H1645.5V1455.0H1646.4H1647.2V1350.9H1648.1L1649.8,1350.9H1650.7V1246.8H1651.5H1652.4V1455.0H1653.2H1654.1V1186.0H1654.9H1655.8V1213.3H1656.7H1657.5V1350.9H1658.4H1659.2V1186.0H1660.1H1661.0V1290.0H1661.8H1662.7V1455.0H1663.5H1664.4V1246.8H1665.2H1666.1V1350.9H1667.0H1667.8V1213.3H1668.7H1669.5V1246.8H1670.4H1671.2V1350.9H1672.1H1673.0V1290.0H1673.8H1674.7V1350.9H1675.5H1676.4V1455.0H1677.3H1678.1V1290.0H1679.0L1680.7,1290.0H1681.5V1246.8H1682.4L1684.1,1246.8H1685.0V1186.0H1685.8H1686.7V1162.8H1687.5H1688.4V1186.0H1689.3H1690.1V1455.0H1691.0H1691.8V1290.0H1692.7H1693.6V1125.1H1694.4H1695.3V1186.0H1696.1H1697.0V1290.0H1697.8H1698.7V1350.9H1699.6H1700.4V1455.0H1701.3H1702.1V1290.0H1703.0H1703.8V1246.8H1704.7H1705.6V1455.0H1706.4H1707.3V1350.9H1708.1L1709.9,1350.9L1711.6,1350.9H1712.4V1455.0H1713.3H1714.1V1246.8H1715.0H1715.9V1290.0H1716.7H1717.6V1186.0H1718.4L1720.2,1186.0H1721.0V1455.0H1721.9H1722.7V1246.8H1723.6H1724.4V1290.0H1725.3H1726.2V1246.8H1727.0H1727.9V1485.0H1728.7H1729.6V1455.0H1730.4H1731.3V1246.8H1732.2H1733.0V1455.0H1733.9H1734.7V1485.0H1735.6H1736.5V1350.9H1737.3L1739.0,1350.9H1739.9V1109.2H1740.7H1741.6V1213.3H1742.5H1743.3V1290.0H1744.2H1745.0V1350.9H1745.9H1746.8V1246.8H1747.6L1749.3,1246.8H1750.2V1125.1H1751.0H1751.9V1350.9H1752.8L1754.5,1350.9H1755.3V1186.0H1756.2H1757.0V1455.0H1757.9H1758.8V1246.8H1759.6H1760.5V1290.0H1761.3H1762.2V1455.0H1763.1H1763.9V1290.0H1764.8H1765.6V1350.9H1766.5H1767.3V1290.0H1768.2L1769.9,1290.0H1770.8V1246.8H1771.6H1772.5V1455.0H1773.3H1774.2V1350.9H1775.1H1775.9V1290.0H1776.8H1777.6V1485.0H1778.5H1779.4V1350.9H1780.2H1781.1V1246.8H1781.9H1782.8V1290.0H1783.6H1784.5V1246.8H1785.4H1786.2V1485.0H1787.1H1787.9V1350.9H1788.8H1789.7V1455.0H1790.5H1791.4V1350.9H1792.2H1793.1V1290.0H1793.9H1794.8V1455.0H1795.7H1796.5V1246.8H1797.4H1798.2V1290.0H1799.1H1799.9V1350.9H1800.8L1802.5,1350.9L1804.2,1350.9H1805.1V1290.0H1806.0H1806.8V1213.3H1807.7H1808.5V1290.0H1809.4H1810.2V1186.0H1811.1H1812.0V1246.8H1812.8H1813.7V1350.9H1814.5L1816.2,1350.9L1818.0,1350.9H1818.8V1290.0H1819.7L1821.4,1290.0H1822.3V1455.0H1823.1H1824.0V1485.0H1824.8H1825.7V1246.8H1826.5H1827.4V1142.8H1828.3H1829.1V1213.3H1830.0H1830.8V1290.0H1831.7H1832.6V1455.0H1833.4H1834.3V1213.3H1835.1H1836.0V1350.9H1836.8H1837.7V1290.0H1838.6H1839.4V1455.0H1840.3H1841.1V1246.8H1842.0H1842.8V1186.0H1843.7H1844.6V1246.8H1845.4H1846.3V1350.9H1847.1L1848.9,1350.9H1849.7V1455.0H1850.6H1851.4V1290.0H1852.3H1853.1V1350.9H1854.0H1854.9V1246.8H1855.7H1856.6V1350.9H1857.4H1858.3V1455.0H1859.1H1860.0V1485.0H1860.9H1861.7V1246.8H1862.6H1863.4V1485.0H1864.3H1865.2V1162.8H1866.0H1866.9V1350.9H1867.7H1868.6V1246.8H1869.4H1870.3V1350.9H1871.2H1872.0V1213.3H1872.9H1873.7V1455.0H1874.6H1875.5V1213.3H1876.3H1877.2V1290.0H1878.0H1878.9V1455.0H1879.7H1880.6V1290.0H1881.5H1882.3V1246.8H1883.2H1884.0V1350.9H1884.9H1885.7V1485.0H1886.6H1887.5V1350.9H1888.3H1889.2V1455.0H1890.0L1891.8,1455.0H1892.6V1350.9H1893.5H1894.3V1290.0H1895.2H1896.0V1246.8H1896.9L1898.6,1246.8H1899.5V1350.9H1900.3H1901.2V1455.0H1902.0H1902.9V1290.0H1903.8H1904.6V1350.9H1905.5H1906.3V1290.0H1907.2H1908.1V1485.0H1908.9L1910.6,1485.0L1912.3,1485.0L1914.1,1485.0H1914.9V1455.0H1915.8H1916.6V1485.0H1917.5L1919.2,1485.0H1920.1V1186.0H1920.9H1921.8V1485.0H1922.6H1923.5V1246.8H1924.4H1925.2V1455.0H1926.1H1926.9V1213.3H1927.8H1928.6V1350.9H1929.5H1930.4V1290.0H1931.2H1932.1V1455.0H1932.9H1933.8V1246.8H1934.7L1936.4,1246.8H1937.2V1455.0H1938.1H1938.9V1246.8H1939.8H1940.7V1213.3H1941.5H1942.4V1290.0H1943.2H1944.1V1350.9H1944.9L1946.7,1350.9H1947.5V1455.0H1948.4H1949.2V1246.8H1950.1H1951.0V1290.0H1951.8H1952.7V1485.0H1953.5H1954.4V1290.0H1955.2H1956.1V1213.3H1957.0H1957.8V1350.9H1958.7L1960.4,1350.9H1961.3V1186.0H1962.1H1963.0V1455.0H1963.8H1964.7V1350.9H1965.5L1967.3,1350.9H1968.1V1290.0H1969.0L1970.7,1290.0H1971.5V1455.0H1972.4H1973.3V1485.0H1974.1H1975.0V1213.3H1975.8L1977.6,1213.3H1978.4V1350.9H1979.3L1981.0,1350.9H1981.8V1455.0H1982.7H1983.6V1290.0H1984.4H1985.3V1213.3H1986.1H1987.0V1246.8H1987.8H1988.7V1455.0H1989.6H1990.4V1246.8H1991.3H1992.1V1485.0H1993.0H1993.9V1455.0H1994.7H1995.6V1213.3H1996.4H1997.3V1246.8H1998.1L1999.9,1246.8H2000.7V1455.0H2001.6H2002.4V1485.0H2003.3H2004.2V1350.9H2005.0L2006.7,1350.9L2008.4,1350.9H2009.3V1290.0H2010.2H2011.0V1213.3H2011.9H2012.7V1455.0H2013.6L2015.3,1455.0H2016.2V1350.9H2017.0H2017.9V1455.0H2018.7H2019.6V1290.0H2020.5H2021.3V1350.9H2022.2H2023.0V1290.0H2023.9H2024.7V1350.9H2025.6H2026.5V1290.0H2027.3H2028.2V1246.8H2029.0H2029.9V1455.0H2030.7H2031.6V1350.9H2032.5H2033.3V1455.0H2034.2H2035.0V1290.0H2035.9H2036.8V1485.0H2037.6H2038.5V1350.9H2039.3H2040.2V1213.3H2041.0H2041.9V1455.0H2042.8H2043.6V1290.0H2044.5L2046.2,1290.0H2047.1V1350.9H2047.9H2048.8V1455.0H2049.6H2050.5V1290.0H2051.3H2052.2V1246.8H2053.1H2053.9V1290.0H2054.8H2055.6V1186.0H2056.5H2057.3V1246.8H2058.2H2059.1V1213.3H2059.9H2060.8V1350.9H2061.6H2062.5V1186.0H2063.4H2064.2V1213.3H2065.1H2065.9V1350.9H2066.8H2067.6V1213.3H2068.5"/>
<path stroke="#ff00ff" d="M352.5,1290.0L354.2,1290.0H355.1V1246.8H355.9H356.8V1290.0H357.6H358.5V1455.0H359.4H360.2V1186.0H361.1H361.9V1350.9H362.8H363.7V1290.0H364.5H365.4V1213.3H366.2H367.1V1246.8H367.9H368.8V1350.9H369.7H370.5V94.1H371.4H372.2V74.8H373.1L374.8,72.0L376.5,75.4L378.2,74.4L380.0,78.4L381.7,82.4L383.4,85.8L385.1,82.9L386.8,88.6L388.5,91.5L390.3,96.1L392.0,94.6L393.7,99.3L395.4,97.2L397.1,103.2L398.8,104.8L400.5,110.4L402.3,113.8L404.0,115.6L405.7,117.0L407.4,121.5L409.1,123.3L410.8,126.4L412.6,124.4L414.3,125.8L416.0,132.3L417.7,128.9L419.4,133.9L421.1,137.4L422.9,139.2L424.6,137.7L426.3,142.8L428.0,144.1L429.7,141.5L431.4,152.5L433.2,154.9L434.9,155.5L436.6,161.9L438.3,163.5L440.0,166.4L441.7,161.3L443.4,167.3L445.2,172.6L446.9,176.1L448.6,173.9L450.3,175.6L452.0,182.0L453.7,180.3L455.5,187.4L457.2,184.4L458.9,188.8L460.6,193.7L462.3,199.6L464.0,197.4L465.8,198.5L467.5,196.5L469.2,206.4L470.9,207.8L472.6,212.5L474.3,210.4L476.1,215.3L477.8,220.4L479.5,220.4L481.2,222.8L482.9,227.2L484.6,225.5L486.3,231.0L488.1,233.2L489.8,233.9L491.5,242.4L493.2,237.9L494.9,242.4L496.6,246.5L498.4,239.0L500.1,246.5L501.8,253.7L503.5,258.7L505.2,258.1L506.9,252.6H507.8V269.0H508.7L510.4,260.9L512.1,269.4L513.8,266.5L515.5,260.9L517.2,267.4L519.0,273.0L520.7,277.9L522.4,276.0L524.1,285.4L525.8,288.4L527.5,286.2L529.2,281.1L531.0,289.6L532.7,288.3L534.4,298.6L536.1,297.7L537.8,307.3L539.5,302.2L541.3,308.1L543.0,302.1L544.7,307.0L546.4,309.4L548.1,309.0L549.8,318.9L551.6,331.0L553.3,331.0L555.0,324.6L556.7,333.3L558.4,333.5L560.1,335.0L561.9,332.9H562.7V351.3H563.6H564.4V335.4H565.3L567.0,338.5L568.7,344.0L570.4,346.9L572.1,339.0L573.9,350.5H574.7V367.4H575.6H576.4V348.6H577.3H578.2V364.3H579.0L580.7,360.0L582.4,353.7H583.3V370.3H584.2L585.9,369.4L587.6,365.8L589.3,373.5L591.0,370.4L592.7,379.7L594.5,382.1L596.2,382.0L597.9,384.6L599.6,383.5L601.3,383.2L603.0,382.2H603.9V401.7H604.8L606.5,397.4L608.2,397.3L609.9,393.8L611.6,396.8L613.3,411.1H614.2V394.7H615.0H615.9V410.1H616.8L618.5,396.8H619.3V419.1H620.2L621.9,420.5L623.6,408.6H624.5V423.9H625.3L627.1,422.3L628.8,417.8L630.5,424.3L632.2,416.3H633.1V437.1H633.9L635.6,433.6L637.4,442.7L639.1,433.7L640.8,434.7L642.5,440.4L644.2,454.1L645.9,445.0L647.7,458.4L649.4,459.0L651.1,459.6L652.8,457.6L654.5,457.6L656.2,469.0L657.9,467.1L659.7,453.3H660.5V470.2H661.4L663.1,468.5L664.8,479.7H665.7V460.1H666.5H667.4V485.7H668.2L670.0,483.4L671.7,486.7L673.4,489.3L675.1,482.2L676.8,494.5L678.5,488.3L680.3,480.1H681.1V508.9H682.0L683.7,505.1L685.4,512.5L687.1,504.8L688.8,512.2L690.6,505.4H691.4V547.7H692.3H693.1V507.0H694.0H694.8V523.0H695.7L697.4,516.5H698.3V542.4H699.1H700.0V513.9H700.8H701.7V548.4H702.6L704.3,541.4L706.0,530.2L707.7,544.8L709.4,543.4H710.3V520.0H711.1H712.0V537.3H712.9L714.6,547.3L716.3,553.1L718.0,541.0L719.7,544.1L721.4,557.2H722.3V579.3H723.2L724.9,565.0H725.7V592.2H726.6H727.4V576.2H728.3H729.2V559.1H730.0L731.7,553.5L733.5,555.7L735.2,565.4L736.9,563.0H737.7V593.6H738.6H739.5V569.1H740.3H741.2V604.1H742.0L743.7,596.1L745.5,584.2H746.3V564.6H747.2H748.0V597.5H748.9L750.6,604.7H751.5V587.0H752.3L754.0,587.4H754.9V614.4H755.8H756.6V598.0H757.5L759.2,611.6L760.9,597.0L762.6,603.1L764.3,608.9L766.1,613.8L767.8,610.0H768.6V627.1H769.5H770.3V597.5H771.2L772.9,595.6H773.8V613.2H774.6H775.5V639.7H776.4H777.2V605.2H778.1H778.9V649.3H779.8H780.6V621.8H781.5L783.2,623.5L784.9,632.0L786.6,626.5L788.4,620.6H789.2V661.7H790.1H790.9V630.2H791.8H792.7V657.9H793.5L795.2,649.3H796.1V667.9H796.9L798.7,659.4L800.4,655.7L802.1,664.8L803.8,657.9L805.5,664.8L807.2,670.3L809.0,671.1L810.7,676.1H811.5V652.1H812.4H813.2V692.0H814.1H815.0V652.8H815.8H816.7V683.8H817.5H818.4V701.6H819.3L821.0,711.9H821.8V695.8H822.7L824.4,689.2L826.1,684.7H827.0V663.2H827.8H828.7V718.4H829.5H830.4V682.9H831.3L833.0,683.8H833.8V720.7H834.7H835.6V694.8H836.4L838.1,680.3L839.8,688.3H840.7V725.3H841.6H842.4V685.6H843.3H844.1V714.1H845.0L846.7,719.6L848.4,724.1H849.3V708.7H850.1H851.0V725.3H851.9L853.6,716.2H854.4V733.6H855.3L857.0,734.9L858.7,725.3L860.4,719.6H861.3V743.8H862.2L863.9,741.2L865.6,751.9L867.3,743.8H868.2V777.7H869.0H869.9V762.0H870.7H871.6V728.8H872.4H873.3V749.2H874.2L875.9,757.6H876.7V784.4H877.6H878.5V757.6H879.3L881.0,768.1L882.7,771.2H883.6V736.1H884.5H885.3V814.9H886.2H887.0V769.6H887.9H888.8V751.9H889.6L891.3,750.6H892.2V766.5H893.0L894.8,772.8L896.5,784.4L898.2,772.8L899.9,786.1L901.6,789.7L903.3,787.9H904.2V768.1H905.1H905.9V793.3H906.8H907.6V812.8H908.5H909.3V832.9H910.2H911.1V795.1H911.9H912.8V853.3H913.6H914.5V781.0H915.3H916.2V830.5H917.1H917.9V789.7H918.8L920.5,779.3H921.4V797.0H922.2L923.9,784.4H924.8V763.5H925.6H926.5V795.1H927.4H928.2V845.3H929.1H929.9V786.1H930.8H931.7V817.1H932.5L934.2,802.7L935.9,806.7H936.8V861.7H937.7H938.5V802.7H939.4H940.2V864.6H941.1H941.9V847.9H942.8H943.7V890.2H944.5H945.4V810.8H946.2H947.1V847.9H948.0L949.7,842.7H950.5V916.9H951.4H952.2V873.7H953.1H954.0V837.7H954.8L956.5,825.9H957.4V856.0H958.2H959.1V893.8H960.0H960.8V870.6H961.7L963.4,867.6L965.1,853.3H966.0V876.9H966.8H967.7V835.3H968.5H969.4V901.1H970.3H971.1V864.6H972.0L973.7,861.7L975.4,858.8H976.3V934.6H977.1H978.0V886.8H978.8L980.6,883.4H981.4V861.7H982.3H983.1V890.2H984.0H984.8V873.7H985.7H986.6V904.9H987.4L989.1,908.8H990.0V949.4H990.9H991.7V880.1H992.6H993.4V819.2H994.3H995.1V954.6H996.0H996.9V925.5H997.7H998.6V949.4H999.4H1000.3V912.8H1001.1H1002.0V864.6H1002.9H1003.7V934.6H1004.6H1005.4V890.2H1006.3H1007.2V921.1H1008.0H1008.9V954.6H1009.7H1010.6V939.4H1011.4H1012.3V901.1H1013.2H1014.0V949.4H1014.9H1015.7V886.8H1016.6H1017.5V916.9H1018.3L1020.0,921.1H1020.9V990.9H1021.7H1022.6V939.4H1023.5H1024.3V1029.6H1025.2H1026.0V934.6H1026.9L1028.6,939.4H1029.5V886.8H1030.3H1031.2V977.8H1032.0H1032.9V944.3H1033.8H1034.6V990.9H1035.5H1036.3V930.0H1037.2H1038.0V997.8H1038.9H1039.8V960.1H1040.6H1041.5V977.8H1042.3H1043.2V1094.9H1044.0H1044.9V1021.0H1045.8H1046.6V916.9H1047.5L1049.2,925.5H1050.1V977.8H1050.9H1051.8V912.8H1052.6H1053.5V944.3H1054.3L1056.1,944.3H1056.9V984.2H1057.8H1058.6V1029.6H1059.5H1060.3V984.2H1061.2H1062.1V944.3H1062.9H1063.8V965.8H1064.6H1065.5V1021.0H1066.4L1068.1,1021.0H1068.9V1005.2H1069.8L1071.5,1005.2L1073.2,1005.2L1074.9,1005.2H1075.8V1029.6H1076.7H1077.5V1005.2H1078.4L1080.1,1005.2L1081.8,997.8L1083.5,997.8L1085.2,997.8H1086.1V1038.7H1086.9L1088.7,1029.6H1089.5V984.2H1090.4H1091.2V1029.6H1092.1L1093.8,1038.7H1094.7V1058.7H1095.5H1096.4V1012.9H1097.2L1099.0,1012.9H1099.8V1038.7H1100.7H1101.5V984.2H1102.4H1103.2V1048.4H1104.1H1105.0V1029.6H1105.8H1106.7V1005.2H1107.5H1108.4V1029.6H1109.3L1111.0,1021.0H1111.8V1109.2H1112.7H1113.5V1048.4H1114.4H1115.3V949.4H1116.1H1117.0V1012.9H1117.8H1118.7V1058.7H1119.6L1121.3,1069.9L1123.0,1081.9H1123.8V1162.8H1124.7H1125.6V1058.7H1126.4L1128.1,1069.9H1129.0V1109.2H1129.8H1130.7V990.9H1131.6H1132.4V1069.9H1133.3H1134.1V1012.9H1135.0H1135.9V1125.1H1136.7H1137.6V1109.2H1138.4H1139.3V1029.6H1140.1H1141.0V1081.9H1141.9H1142.7V1142.8H1143.6H1144.4V1048.4H1145.3H1146.1V1005.2H1147.0H1147.9V1069.9H1148.7L1150.4,1069.9L1152.2,1058.7L1153.9,1069.9L1155.6,1069.9H1156.4V1029.6H1157.3H1158.2V1213.3H1159.0H1159.9V1125.1H1160.7H1161.6V1081.9H1162.5H1163.3V1125.1H1164.2H1165.0V1038.7H1165.9H1166.7V1109.2H1167.6H1168.5V1058.7H1169.3L1171.0,1048.4H1171.9V1069.9H1172.7H1173.6V1038.7H1174.5L1176.2,1038.7H1177.0V1058.7H1177.9H1178.8V1125.1H1179.6H1180.5V1109.2H1181.3H1182.2V1048.4H1183.0H1183.9V1162.8H1184.8H1185.6V1109.2H1186.5L1188.2,1109.2H1189.0V1069.9H1189.9H1190.8V1186.0H1191.6H1192.5V1081.9H1193.3L1195.1,1081.9H1195.9V1058.7H1196.8H1197.6V1109.2H1198.5H1199.3V1125.1H1200.2H1201.1V1290.0H1201.9H1202.8V1125.1H1203.6L1205.4,1125.1H1206.2V1162.8H1207.1L1208.8,1162.8H1209.6V1029.6H1210.5H1211.4V1081.9H1212.2H1213.1V1125.1H1213.9H1214.8V1162.8H1215.6H1216.5V1125.1H1217.4H1218.2V1162.8H1219.1L1220.8,1162.8H1221.7V1246.8H1222.5H1223.4V1213.3H1224.2H1225.1V1142.8H1225.9H1226.8V1094.9H1227.7H1228.5V1186.0H1229.4H1230.2V1142.8H1231.1H1232.0V1246.8H1232.8H1233.7V1142.8H1234.5H1235.4V1246.8H1236.2H1237.1V1213.3H1238.0H1238.8V1142.8H1239.7H1240.5V1350.9H1241.4H1242.2V1213.3H1243.1H1244.0V1125.1H1244.8H1245.7V1186.0H1246.5L1248.3,1186.0H1249.1V1094.9H1250.0H1250.8V1142.8H1251.7H1252.5V1246.8H1253.4H1254.3V1213.3H1255.1H1256.0V1162.8H1256.8H1257.7V1038.7H1258.5H1259.4V1350.9H1260.3H1261.1V1162.8H1262.0H1262.8V1350.9H1263.7H1264.6V1186.0H1265.4H1266.3V1290.0H1267.1H1268.0V1125.1H1268.8H1269.7V1142.8H1270.6H1271.4V1125.1H1272.3H1273.1V1186.0H1274.0H1274.8V1162.8H1275.7H1276.6V1213.3H1277.4H1278.3V1186.0H1279.1H1280.0V1162.8H1280.9H1281.7V1125.1H1282.6H1283.4V1246.8H1284.3H1285.1V1162.8H1286.0L1287.7,1162.8H1288.6V1213.3H1289.4H1290.3V1246.8H1291.2H1292.0V1290.0H1292.9H1293.7V1213.3H1294.6H1295.4V1246.8H1296.3H1297.2V1213.3H1298.0L1299.7,1213.3L1301.4,1213.3L1303.2,1213.3L1304.9,1213.3H1305.7V1162.8H1306.6H1307.5V1186.0H1308.3H1309.2V1094.9H1310.0H1310.9V1350.9H1311.7H1312.6V1246.8H1313.5H1314.3V1186.0H1315.2H1316.0V1455.0H1316.9H1317.8V1213.3H1318.6H1319.5V1142.8H1320.3H1321.2V1246.8H1322.0H1322.9V1213.3H1323.8H1324.6V1290.0H1325.5H1326.3V1246.8H1327.2H1328.0V1213.3H1328.9H1329.8V1290.0H1330.6H1331.5V1109.2H1332.3H1333.2V1142.8H1334.1H1334.9V1290.0H1335.8L1337.5,1290.0H1338.3V1455.0H1339.2H1340.1V1290.0H1340.9H1341.8V1350.9H1342.6H1343.5V1213.3H1344.3L1346.1,1213.3L1347.8,1213.3H1348.6V1455.0H1349.5H1350.4V1350.9H1351.2H1352.1V1290.0H1352.9H1353.8V1213.3H1354.6H1355.5V1350.9H1356.4H1357.2V1455.0H1358.1L1359.8,1455.0H1360.6V1350.9H1361.5L1363.2,1350.9H1364.1V1213.3H1364.9H1365.8V1290.0H1366.7H1367.5V1246.8H1368.4H1369.2V1290.0H1370.1H1370.9V1213.3H1371.8H1372.7V1290.0H1373.5H1374.4V1246.8H1375.2L1377.0,1246.8H1377.8V1162.8H1378.7H1379.5V1246.8H1380.4H1381.2V1290.0H1382.1H1383.0V1246.8H1383.8H1384.7V1290.0H1385.5H1386.4V1213.3H1387.2H1388.1V1290.0H1389.0H1389.8V1246.8H1390.7H1391.5V1485.0H1392.4H1393.3V1246.8H1394.1H1395.0V1290.0H1395.8L1397.5,1290.0L1399.3,1290.0H1400.1V1350.9H1401.0L1402.7,1350.9H1403.5V1213.3H1404.4H1405.3V1290.0H1406.1H1407.0V1455.0H1407.8H1408.7V1350.9H1409.6H1410.4V1213.3H1411.3H1412.1V1162.8H1413.0H1413.8V1290.0H1414.7H1415.6V1186.0H1416.4H1417.3V1246.8H1418.1H1419.0V1290.0H1419.9H1420.7V1350.9H1421.6H1422.4V1290.0H1423.3H1424.1V1246.8H1425.0H1425.9V1455.0H1426.7H1427.6V1290.0H1428.4H1429.3V1350.9H1430.1H1431.0V1246.8H1431.9H1432.7V1350.9H1433.6L1435.3,1350.9H1436.2V1455.0H1437.0H1437.9V1213.3H1438.7H1439.6V1455.0H1440.4H1441.3V1290.0H1442.2L1443.9,1290.0H1444.7V1246.8H1445.6H1446.5V1142.8H1447.3H1448.2V1213.3H1449.0H1449.9V1290.0H1450.7L1452.5,1290.0H1453.3V1350.9H1454.2H1455.0V1290.0H1455.9H1456.7V1162.8H1457.6H1458.5V1455.0H1459.3H1460.2V1246.8H1461.0H1461.9V1213.3H1462.8H1463.6V1350.9H1464.5H1465.3V1455.0H1466.2H1467.0V1162.8H1467.9H1468.8V1213.3H1469.6H1470.5V1290.0H1471.3H1472.2V1350.9H1473.0H1473.9V1455.0H1474.8L1476.5,1455.0L1478.2,1455.0H1479.1V1213.3H1479.9H1480.8V1485.0H1481.6H1482.5V1290.0H1483.3H1484.2V1213.3H1485.1H1485.9V1290.0H1486.8H1487.6V1213.3H1488.5H1489.3V1290.0H1490.2H1491.1V1186.0H1491.9H1492.8V1246.8H1493.6H1494.5V1350.9H1495.4H1496.2V1186.0H1497.1H1497.9V1350.9H1498.8H1499.6V1455.0H1500.5H1501.4V1350.9H1502.2H1503.1V1213.3H1503.9H1504.8V1125.1H1505.7H1506.5V1186.0H1507.4H1508.2V1246.8H1509.1H1509.9V1290.0H1510.8L1512.5,1290.0H1513.4V1213.3H1514.2H1515.1V1455.0H1515.9H1516.8V1213.3H1517.7H1518.5V1246.8H1519.4H1520.2V1290.0H1521.1H1522.0V1186.0H1522.8H1523.7V1455.0H1524.5H1525.4V1290.0H1526.2L1528.0,1290.0H1528.8V1213.3H1529.7H1530.5V1485.0H1531.4H1532.2V1290.0H1533.1H1534.0V1246.8H1534.8L1536.5,1246.8H1537.4V1350.9H1538.3H1539.1V1455.0H1540.0H1540.8V1186.0H1541.7H1542.5V1350.9H1543.4H1544.3V1213.3H1545.1H1546.0V1350.9H1546.8H1547.7V1290.0H1548.6H1549.4V1455.0H1550.3L1552.0,1455.0H1552.8V1246.8H1553.7H1554.6V1290.0H1555.4H1556.3V1350.9H1557.1H1558.0V1455.0H1558.8H1559.7V1290.0H1560.6H1561.4V1350.9H1562.3H1563.1V1290.0H1564.0H1564.9V1246.8H1565.7H1566.6V1290.0H1567.4L1569.1,1290.0H1570.0V1350.9H1570.9H1571.7V1290.0H1572.6H1573.4V1213.3H1574.3H1575.1V1246.8H1576.0H1576.9V1455.0H1577.7L1579.4,1455.0L1581.2,1455.0H1582.0V1290.0H1582.9L1584.6,1290.0H1585.4V1455.0H1586.3H1587.2V1350.9H1588.0L1589.7,1350.9H1590.6V1290.0H1591.5H1592.3V1213.3H1593.2H1594.0V1246.8H1594.9L1596.6,1246.8L1598.3,1246.8H1599.2V1455.0H1600.0H1600.9V1350.9H1601.7L1603.5,1350.9H1604.3V1455.0H1605.2H1606.0V1290.0H1606.9H1607.8V1213.3H1608.6H1609.5V1350.9H1610.3L1612.0,1350.9H1612.9V1246.8H1613.8H1614.6V1290.0H1615.5H1616.3V1350.9H1617.2H1618.0V1290.0H1618.9H1619.8V1350.9H1620.6H1621.5V1186.0H1622.3H1623.2V1455.0H1624.1H1624.9V1246.8H1625.8H1626.6V1350.9H1627.5H1628.3V1246.8H1629.2H1630.1V1350.9H1630.9H1631.8V1213.3H1632.6H1633.5V1455.0H1634.4H1635.2V1162.8H1636.1H1636.9V1350.9H1637.8L1639.5,1350.9H1640.4V1213.3H1641.2H1642.1V1246.8H1642.9H1643.8V1290.0H1644.6H1645.5V1350.9H1646.4L1648.1,1350.9H1648.9V1290.0H1649.8L1651.5,1290.0H1652.4V1246.8H1653.2L1654.9,1246.8H1655.8V1455.0H1656.7L1658.4,1455.0H1659.2V1350.9H1660.1H1661.0V1246.8H1661.8H1662.7V1455.0H1663.5H1664.4V1246.8H1665.2L1667.0,1246.8H1667.8V1186.0H1668.7H1669.5V1455.0H1670.4H1671.2V1094.9H1672.1H1673.0V1350.9H1673.8H1674.7V1246.8H1675.5H1676.4V1455.0H1677.3H1678.1V1485.0H1679.0H1679.8V1186.0H1680.7H1681.5V1213.3H1682.4H1683.3V1186.0H1684.1H1685.0V1290.0H1685.8H1686.7V1213.3H1687.5H1688.4V1350.9H1689.3H1690.1V1142.8H1691.0H1691.8V1350.9H1692.7H1693.6V1213.3H1694.4H1695.3V1246.8H1696.1H1697.0V1350.9H1697.8H1698.7V1246.8H1699.6H1700.4V1350.9H1701.3H1702.1V1455.0H1703.0H1703.8V1246.8H1704.7L1706.4,1246.8H1707.3V1290.0H1708.1L1709.9,1290.0H1710.7V1455.0H1711.6H1712.4V1290.0H1713.3H1714.1V1246.8H1715.0H1715.9V1485.0H1716.7H1717.6V1246.8H1718.4H1719.3V1350.9H1720.2H1721.0V1290.0H1721.9L1723.6,1290.0H1724.4V1213.3H1725.3H1726.2V1290.0H1727.0H1727.9V1455.0H1728.7L1730.4,1455.0H1731.3V1350.9H1732.2H1733.0V1485.0H1733.9H1734.7V1350.9H1735.6H1736.5V1455.0H1737.3L1739.0,1455.0H1739.9V1290.0H1740.7H1741.6V1350.9H1742.5H1743.3V1290.0H1744.2L1745.9,1290.0L1747.6,1290.0H1748.5V1213.3H1749.3H1750.2V1485.0H1751.0H1751.9V1350.9H1752.8H1753.6V1213.3H1754.5H1755.3V1350.9H1756.2H1757.0V1213.3H1757.9H1758.8V1290.0H1759.6H1760.5V1350.9H1761.3L1763.1,1350.9H1763.9V1485.0H1764.8H1765.6V1350.9H1766.5L1768.2,1350.9L1769.9,1350.9H1770.8V1485.0H1771.6H1772.5V1290.0H1773.3H1774.2V1350.9H1775.1H1775.9V1290.0H1776.8H1777.6V1350.9H1778.5H1779.4V1455.0H1780.2H1781.1V1350.9H1781.9H1782.8V1455.0H1783.6H1784.5V1485.0H1785.4H1786.2V1455.0H1787.1H1787.9V1350.9H1788.8H1789.7V1485.0H1790.5H1791.4V1246.8H1792.2H1793.1V1186.0H1793.9H1794.8V1455.0H1795.7H1796.5V1350.9H1797.4L1799.1,1350.9H1799.9V1246.8H1800.8H1801.7V1455.0H1802.5H1803.4V1186.0H1804.2H1805.1V1350.9H1806.0L1807.7,1350.9L1809.4,1350.9H1810.2V1290.0H1811.1H1812.0V1455.0H1812.8L1814.5,1455.0H1815.4V1290.0H1816.2H1817.1V1350.9H1818.0L1819.7,1350.9H1820.5V1246.8H1821.4H1822.3V1186.0H1823.1H1824.0V1290.0H1824.8H1825.7V1350.9H1826.5H1827.4V1485.0H1828.3H1829.1V1350.9H1830.0L1831.7,1350.9H1832.6V1290.0H1833.4H1834.3V1213.3H1835.1H1836.0V1246.8H1836.8H1837.7V1290.0H1838.6H1839.4V1350.9H1840.3L1842.0,1350.9L1843.7,1350.9H1844.6V1290.0H1845.4H1846.3V1485.0H1847.1H1848.0V1455.0H1848.9L1850.6,1455.0H1851.4V1485.0H1852.3H1853.1V1290.0H1854.0H1854.9V1213.3H1855.7H1856.6V1455.0H1857.4L1859.1,1455.0H1860.0V1246.8H1860.9H1861.7V1290.0H1862.6H1863.4V1455.0H1864.3H1865.2V1290.0H1866.0L1867.7,1290.0L1869.4,1290.0H1870.3V1350.9H1871.2H1872.0V1455.0H1872.9L1874.6,1455.0H1875.5V1162.8H1876.3H1877.2V1290.0H1878.0L1879.7,1290.0L1881.5,1290.0H1882.3V1485.0H1883.2H1884.0V1290.0H1884.9H1885.7V1485.0H1886.6H1887.5V1246.8H1888.3H1889.2V1213.3H1890.0H1890.9V1455.0H1891.8H1892.6V1350.9H1893.5H1894.3V1290.0H1895.2H1896.0V1350.9H1896.9H1897.8V1455.0H1898.6H1899.5V1350.9H1900.3H1901.2V1485.0H1902.0H1902.9V1350.9H1903.8L1905.5,1350.9H1906.3V1290.0H1907.2H1908.1V1485.0H1908.9H1909.8V1350.9H1910.6L1912.3,1350.9H1913.2V1246.8H1914.1H1914.9V1186.0H1915.8H1916.6V1246.8H1917.5L1919.2,1246.8H1920.1V1350.9H1920.9H1921.8V1162.8H1922.6L1924.4,1162.8H1925.2V1290.0H1926.1H1926.9V1485.0H1927.8H1928.6V1213.3H1929.5H1930.4V1455.0H1931.2H1932.1V1350.9H1932.9H1933.8V1213.3H1934.7L1936.4,1213.3H1937.2V1290.0H1938.1L1939.8,1290.0H1940.7V1455.0H1941.5H1942.4V1290.0H1943.2H1944.1V1455.0H1944.9L1946.7,1455.0H1947.5V1246.8H1948.4L1950.1,1246.8H1951.0V1213.3H1951.8H1952.7V1246.8H1953.5H1954.4V1213.3H1955.2L1957.0,1213.3H1957.8V1246.8H1958.7H1959.5V1455.0H1960.4H1961.3V1290.0H1962.1H1963.0V1350.9H1963.8H1964.7V1290.0H1965.5H1966.4V1455.0H1967.3L1969.0,1455.0H1969.8V1213.3H1970.7H1971.5V1246.8H1972.4H1973.3V1455.0H1974.1L1975.8,1455.0H1976.7V1290.0H1977.6H1978.4V1350.9H1979.3H1980.1V1246.8H1981.0L1982.7,1246.8H1983.6V1186.0H1984.4H1985.3V1290.0H1986.1H1987.0V1213.3H1987.8H1988.7V1246.8H1989.6H1990.4V1350.9H1991.3H1992.1V1246.8H1993.0H1993.9V1455.0H1994.7L1996.4,1455.0H1997.3V1350.9H1998.1H1999.0V1455.0H1999.9H2000.7V1290.0H2001.6L2003.3,1290.0L2005.0,1290.0L2006.7,1290.0H2007.6V1455.0H2008.4H2009.3V1350.9H2010.2H2011.0V1142.8H2011.9H2012.7V1290.0H2013.6H2014.4V1455.0H2015.3H2016.2V1246.8H2017.0H2017.9V1455.0H2018.7H2019.6V1213.3H2020.5H2021.3V1350.9H2022.2H2023.0V1290.0H2023.9H2024.7V1186.0H2025.6H2026.5V1350.9H2027.3H2028.2V1186.0H2029.0H2029.9V1246.8H2030.7H2031.6V1213.3H2032.5H2033.3V1290.0H2034.2H2035.0V1350.9H2035.9L2037.6,1350.9H2038.5V1186.0H2039.3H2040.2V1213.3H2041.0H2041.9V1485.0H2042.8H2043.6V1455.0H2044.5H2045.3V1350.9H2046.2L2047.9,1350.9H2048.8V1485.0H2049.6H2050.5V1350.9H2051.3L2053.1,1350.9L2054.8,1350.9H2055.6V1455.0H2056.5H2057.3V1246.8H2058.2H2059.1V1290.0H2059.9H2060.8V1350.9H2061.6H2062.5V1213.3H2063.4H2064.2V1485.0H2065.1H2065.9V1246.8H2066.8H2067.6V1485.0H2068.5"/>
</g>
<text x="352.5" y="1556" font-size="72" text-anchor="middle">0</text>
<text x="524.1" y="1556" font-size="72" text-anchor="middle">1</text>
<text x="695.7" y="1556" font-size="72" text-anchor="middle">2</text>
<text x="867.3" y="1556" font-size="72" text-anchor="middle">3</text>
<text x="1038.9" y="1556" font-size="72" text-anchor="middle">4</text>
<text x="1210.5" y="1556" font-size="72" text-anchor="middle">5</text>
<text x="1382.1" y="1556" font-size="72" text-anchor="middle">6</text>
<text x="1553.7" y="1556" font-size="72" text-anchor="middle">7</text>
<text x="1725.3" y="1556" font-size="72" text-anchor="middle">8</text>
<text x="1896.9" y="1556" font-size="72" text-anchor="middle">9</text>
<text x="2068.5" y="1556" font-size="72" text-anchor="middle">10</text>
<text x="304.6" y="1481.2" font-size="72" text-anchor="end">10<tspan font-size="48" dy="-30">0</tspan></text>
<text x="304.6" y="1135.5" font-size="72" text-anchor="end">10<tspan font-size="48" dy="-30">1</tspan></text>
<text x="304.6" y="789.7" font-size="72" text-anchor="end">10<tspan font-size="48" dy="-30">2</tspan></text>
<text x="304.6" y="443.9" font-size="72" text-anchor="end">10<tspan font-size="48" dy="-30">3</tspan></text>
<text x="304.6" y="98.2" font-size="72" text-anchor="end">10<tspan font-size="48" dy="-30">4</tspan></text>
<text x="823" y="1711.5" font-size="102.7">Decay Time (ms)</text>
<text transform="translate(110,1372.3) rotate(-90)" x="0" y="0" font-size="101.7">Logarithmic intensity (a.u.)</text>
<path d="M955,301H1974M955,395H1974M955,481H1974M955,565.5H1974" stroke="#c4c4c4" stroke-width="3" fill="none"/>
<path d="M1464,216V652" stroke="#c0c0c0" stroke-width="2.2" fill="none"/>
<path d="M955,215.7H1974" stroke="#555" stroke-width="4.5" fill="none"/>
<path d="M954.8,213.5V651" stroke="#555" stroke-width="4.5" fill="none"/>
<path d="M1974,213.5V651" stroke="#333" stroke-width="3.5" fill="none"/>
<path d="M953,649.4H1463M1466,649.4H1976" stroke="#0a0a0a" stroke-width="3.2" fill="none"/>
<text x="1083.1" y="275.5" font-size="63.4">Samples</text>
<text x="1495.2" y="275.5" font-size="63.4">Decay time / ms</text>
<text x="1107.8" y="357" font-size="63.4">Powder</text>
<text x="1643.5" y="357" font-size="63.4">0.716</text>
<text x="1140.1" y="452.4" font-size="63.4">900C</text>
<text x="1643.5" y="452.4" font-size="63.4">0.646</text>
<text x="1122.6" y="537" font-size="63.4">1000C</text>
<text x="1643.5" y="537" font-size="63.4">0.634</text>
<text x="1122.6" y="621" font-size="63.4">1100C</text>
<text x="1660" y="621" font-size="63.4">0.63</text>
<rect x="412.9" y="960" width="524.5" height="426.5" fill="#fff" stroke="#999" stroke-width="2.5"/>
<path d="M423.8,1018.1H615.8" stroke="#000000" stroke-width="3"/>
<text x="636" y="1047.3" font-size="85.7">Powder</text>
<path d="M423.8,1122.2H615.8" stroke="#00ff00" stroke-width="3"/>
<text x="636" y="1151.9" font-size="85.7">900C</text>
<path d="M423.8,1226H615.8" stroke="#0000ff" stroke-width="3"/>
<text x="636" y="1255.1" font-size="85.7">1000C</text>
<path d="M423.8,1329.8H615.8" stroke="#ff00ff" stroke-width="3"/>
<text x="636" y="1359.8" font-size="85.7">1100C</text>
</svg>
</body></html>
